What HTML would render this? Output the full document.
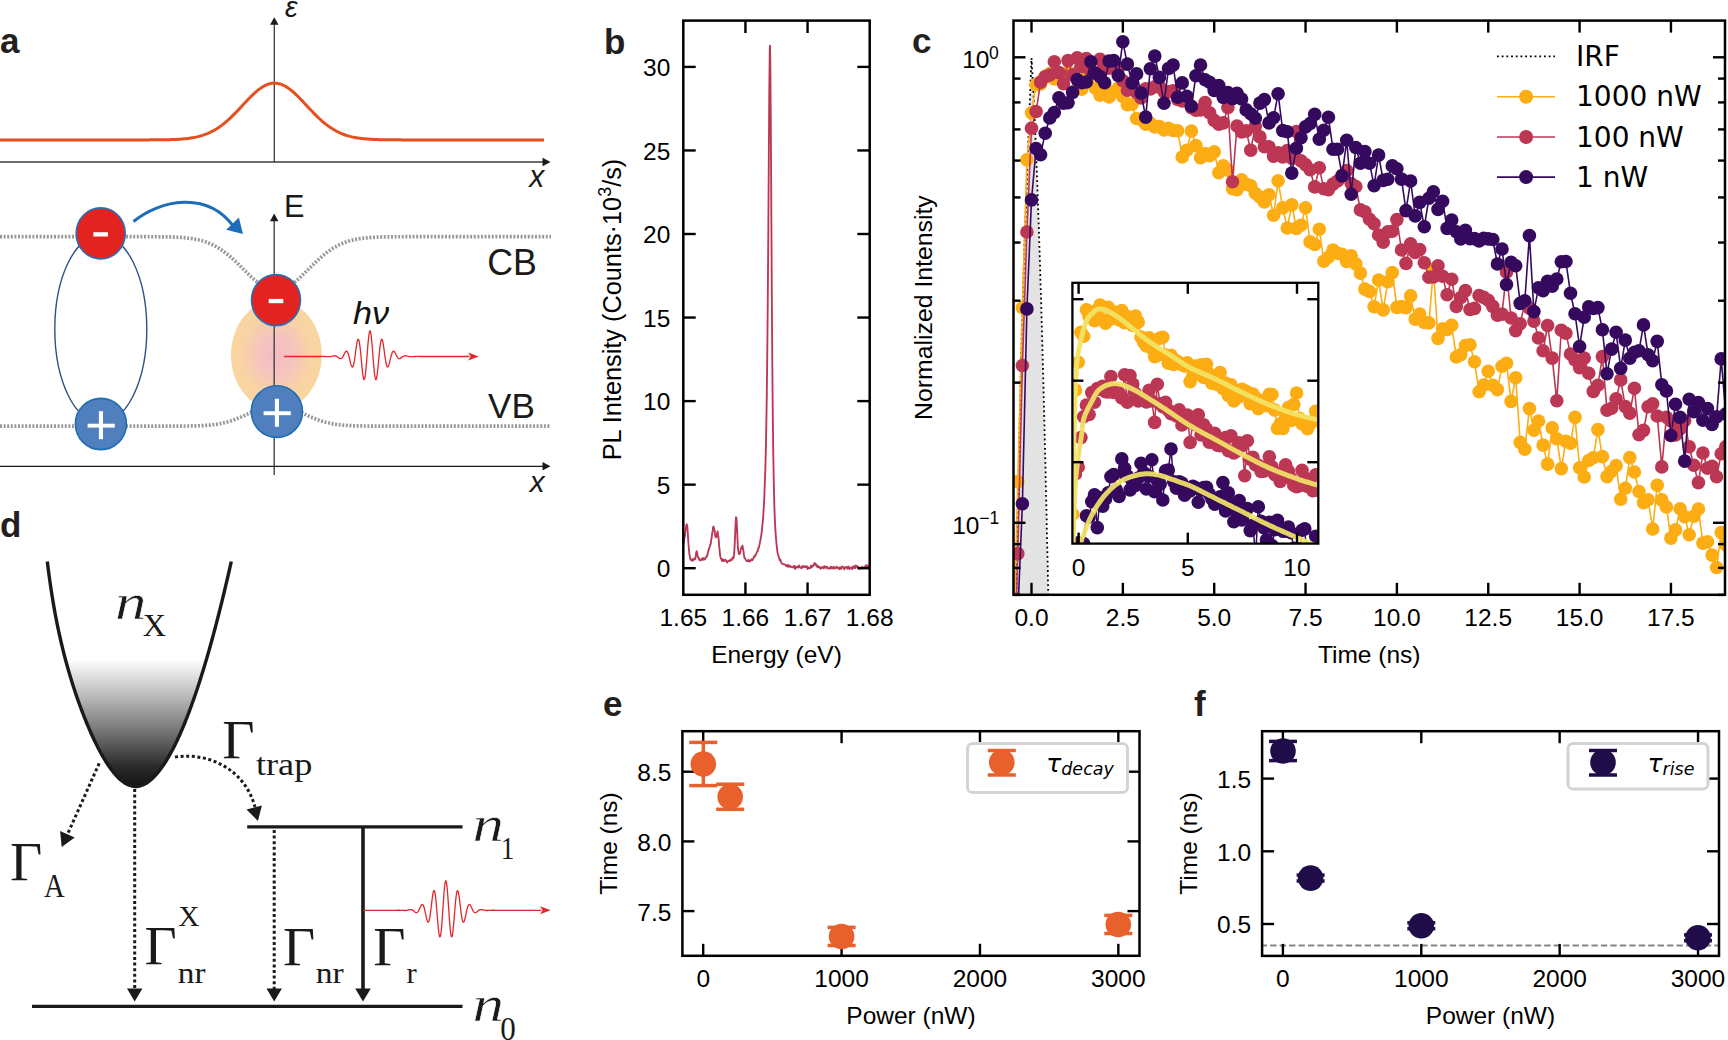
<!DOCTYPE html><html><head><meta charset="utf-8"><style>html,body{margin:0;padding:0;background:#fff;overflow:hidden}svg{display:block}</style></head><body>
<svg width="1728" height="1040" viewBox="0 0 1728 1040">
<rect width="1728" height="1040" fill="#fff"/>
<text x="0.0" y="53.3" font-family="'Liberation Sans', Arial, Helvetica, sans-serif" font-size="35" text-anchor="start" font-weight="bold" font-style="normal" fill="#231f20" >a</text>
<line x1="274.3" y1="24" x2="274.3" y2="162" stroke="#3a3a3a" stroke-width="1.3"/>
<polygon points="274.3,17.3 270.1,24.8 278.5,24.8" fill="#1a1a1a"/>
<line x1="0" y1="162" x2="543" y2="162" stroke="#3a3a3a" stroke-width="1.3"/>
<polygon points="550.5,162 542.5,157.8 542.5,166.2" fill="#1a1a1a"/>
<text transform="matrix(0.9462 0 0 0.9908 284.98 16.90)" font-family="'Liberation Sans', Arial, Helvetica, sans-serif" font-size="30" font-weight="normal" font-style="italic" fill="#1a1a1a" >&#949;</text>
<text transform="matrix(1.0030 0 0 1.0159 529.35 187.45)" font-family="'Liberation Sans', Arial, Helvetica, sans-serif" font-size="30" font-weight="normal" font-style="italic" fill="#1a1a1a" >x</text>
<polyline points="0.0,139.90 2.0,139.90 4.0,139.90 6.0,139.90 8.0,139.90 10.0,139.90 12.0,139.90 14.0,139.90 16.0,139.90 18.0,139.90 20.0,139.90 22.0,139.90 24.0,139.90 26.0,139.90 28.0,139.90 30.0,139.90 32.0,139.90 34.0,139.90 36.0,139.90 38.0,139.90 40.0,139.90 42.0,139.90 44.0,139.90 46.0,139.90 48.0,139.90 50.0,139.90 52.0,139.90 54.0,139.90 56.0,139.90 58.0,139.90 60.0,139.90 62.0,139.90 64.0,139.90 66.0,139.90 68.0,139.90 70.0,139.90 72.0,139.90 74.0,139.90 76.0,139.90 78.0,139.90 80.0,139.90 82.0,139.90 84.0,139.90 86.0,139.90 88.0,139.90 90.0,139.90 92.0,139.90 94.0,139.90 96.0,139.90 98.0,139.90 100.0,139.90 102.0,139.90 104.0,139.90 106.0,139.90 108.0,139.90 110.0,139.90 112.0,139.90 114.0,139.90 116.0,139.90 118.0,139.90 120.0,139.90 122.0,139.90 124.0,139.90 126.0,139.90 128.0,139.90 130.0,139.90 132.0,139.90 134.0,139.90 136.0,139.90 138.0,139.89 140.0,139.89 142.0,139.89 144.0,139.89 146.0,139.88 148.0,139.88 150.0,139.87 152.0,139.86 154.0,139.85 156.0,139.84 158.0,139.82 160.0,139.81 162.0,139.78 164.0,139.75 166.0,139.72 168.0,139.68 170.0,139.63 172.0,139.56 174.0,139.49 176.0,139.40 178.0,139.30 180.0,139.17 182.0,139.03 184.0,138.86 186.0,138.66 188.0,138.43 190.0,138.16 192.0,137.85 194.0,137.50 196.0,137.10 198.0,136.64 200.0,136.12 202.0,135.54 204.0,134.88 206.0,134.15 208.0,133.34 210.0,132.45 212.0,131.47 214.0,130.39 216.0,129.22 218.0,127.95 220.0,126.58 222.0,125.11 224.0,123.55 226.0,121.89 228.0,120.14 230.0,118.30 232.0,116.39 234.0,114.40 236.0,112.36 238.0,110.26 240.0,108.14 242.0,105.99 244.0,103.84 246.0,101.70 248.0,99.59 250.0,97.53 252.0,95.54 254.0,93.64 256.0,91.84 258.0,90.17 260.0,88.64 262.0,87.27 264.0,86.08 266.0,85.07 268.0,84.26 270.0,83.66 272.0,83.27 274.0,83.11 276.0,83.16 278.0,83.44 280.0,83.93 282.0,84.64 284.0,85.55 286.0,86.65 288.0,87.94 290.0,89.39 292.0,90.99 294.0,92.72 296.0,94.58 298.0,96.53 300.0,98.55 302.0,100.64 304.0,102.76 306.0,104.91 308.0,107.06 310.0,109.20 312.0,111.31 314.0,113.39 316.0,115.40 318.0,117.35 320.0,119.23 322.0,121.02 324.0,122.73 326.0,124.34 328.0,125.86 330.0,127.28 332.0,128.60 334.0,129.82 336.0,130.94 338.0,131.97 340.0,132.91 342.0,133.76 344.0,134.53 346.0,135.22 348.0,135.84 350.0,136.39 352.0,136.88 354.0,137.31 356.0,137.68 358.0,138.01 360.0,138.30 362.0,138.55 364.0,138.76 366.0,138.95 368.0,139.10 370.0,139.24 372.0,139.35 374.0,139.45 376.0,139.53 378.0,139.60 380.0,139.65 382.0,139.70 384.0,139.74 386.0,139.77 388.0,139.79 390.0,139.82 392.0,139.83 394.0,139.85 396.0,139.86 398.0,139.87 400.0,139.87 402.0,139.88 404.0,139.88 406.0,139.89 408.0,139.89 410.0,139.89 412.0,139.89 414.0,139.90 416.0,139.90 418.0,139.90 420.0,139.90 422.0,139.90 424.0,139.90 426.0,139.90 428.0,139.90 430.0,139.90 432.0,139.90 434.0,139.90 436.0,139.90 438.0,139.90 440.0,139.90 442.0,139.90 444.0,139.90 446.0,139.90 448.0,139.90 450.0,139.90 452.0,139.90 454.0,139.90 456.0,139.90 458.0,139.90 460.0,139.90 462.0,139.90 464.0,139.90 466.0,139.90 468.0,139.90 470.0,139.90 472.0,139.90 474.0,139.90 476.0,139.90 478.0,139.90 480.0,139.90 482.0,139.90 484.0,139.90 486.0,139.90 488.0,139.90 490.0,139.90 492.0,139.90 494.0,139.90 496.0,139.90 498.0,139.90 500.0,139.90 502.0,139.90 504.0,139.90 506.0,139.90 508.0,139.90 510.0,139.90 512.0,139.90 514.0,139.90 516.0,139.90 518.0,139.90 520.0,139.90 522.0,139.90 524.0,139.90 526.0,139.90 528.0,139.90 530.0,139.90 532.0,139.90 534.0,139.90 536.0,139.90 538.0,139.90 540.0,139.90 542.0,139.90 544.0,139.90" fill="none" stroke="#e4501e" stroke-width="3"/>
<polyline points="0,236.70 1,236.70 2,236.70 3,236.70 4,236.70 5,236.70 6,236.70 7,236.70 8,236.70 9,236.70 10,236.70 11,236.70 12,236.70 13,236.70 14,236.70 15,236.70 16,236.70 17,236.70 18,236.70 19,236.70 20,236.70 21,236.70 22,236.70 23,236.70 24,236.70 25,236.70 26,236.70 27,236.70 28,236.70 29,236.70 30,236.70 31,236.70 32,236.70 33,236.70 34,236.70 35,236.70 36,236.70 37,236.70 38,236.70 39,236.70 40,236.70 41,236.70 42,236.70 43,236.70 44,236.70 45,236.70 46,236.70 47,236.70 48,236.70 49,236.70 50,236.70 51,236.70 52,236.70 53,236.70 54,236.70 55,236.70 56,236.70 57,236.70 58,236.70 59,236.70 60,236.70 61,236.70 62,236.70 63,236.70 64,236.70 65,236.70 66,236.70 67,236.70 68,236.70 69,236.70 70,236.70 71,236.70 72,236.70 73,236.70 74,236.70 75,236.70 76,236.70 77,236.70 78,236.70 79,236.70 80,236.70 81,236.70 82,236.70 83,236.70 84,236.70 85,236.70 86,236.70 87,236.70 88,236.70 89,236.70 90,236.70 91,236.70 92,236.70 93,236.70 94,236.70 95,236.70 96,236.70 97,236.70 98,236.70 99,236.70 100,236.70 101,236.70 102,236.70 103,236.70 104,236.70 105,236.70 106,236.70 107,236.70 108,236.70 109,236.70 110,236.70 111,236.70 112,236.70 113,236.70 114,236.70 115,236.70 116,236.70 117,236.70 118,236.70 119,236.70 120,236.70 121,236.70 122,236.70 123,236.70 124,236.70 125,236.70 126,236.70 127,236.70 128,236.70 129,236.70 130,236.70 131,236.70 132,236.70 133,236.70 134,236.70 135,236.70 136,236.71 137,236.71 138,236.71 139,236.71 140,236.71 141,236.71 142,236.71 143,236.71 144,236.71 145,236.72 146,236.72 147,236.72 148,236.72 149,236.73 150,236.73 151,236.73 152,236.74 153,236.74 154,236.75 155,236.75 156,236.76 157,236.77 158,236.78 159,236.79 160,236.80 161,236.81 162,236.82 163,236.83 164,236.85 165,236.86 166,236.88 167,236.90 168,236.92 169,236.94 170,236.97 171,237.00 172,237.03 173,237.06 174,237.10 175,237.14 176,237.18 177,237.23 178,237.28 179,237.34 180,237.40 181,237.47 182,237.54 183,237.61 184,237.70 185,237.79 186,237.88 187,237.99 188,238.10 189,238.22 190,238.35 191,238.49 192,238.63 193,238.79 194,238.96 195,239.14 196,239.33 197,239.54 198,239.76 199,239.99 200,240.23 201,240.49 202,240.77 203,241.06 204,241.37 205,241.69 206,242.04 207,242.40 208,242.78 209,243.17 210,243.59 211,244.03 212,244.49 213,244.97 214,245.47 215,245.99 216,246.54 217,247.10 218,247.69 219,248.30 220,248.93 221,249.59 222,250.27 223,250.97 224,251.69 225,252.44 226,253.20 227,253.99 228,254.80 229,255.62 230,256.47 231,257.33 232,258.22 233,259.12 234,260.03 235,260.96 236,261.90 237,262.86 238,263.82 239,264.80 240,265.78 241,266.76 242,267.76 243,268.75 244,269.75 245,270.74 246,271.73 247,272.72 248,273.70 249,274.67 250,275.63 251,276.57 252,277.50 253,278.41 254,279.31 255,280.18 256,281.02 257,281.84 258,282.64 259,283.40 260,284.13 261,284.83 262,285.49 263,286.11 264,286.70 265,287.24 266,287.74 267,288.20 268,288.61 269,288.98 270,289.30 271,289.57 272,289.80 273,289.97 274,290.10 275,290.17 276,290.20 277,290.17 278,290.10 279,289.97 280,289.80 281,289.57 282,289.30 283,288.98 284,288.61 285,288.20 286,287.74 287,287.24 288,286.70 289,286.11 290,285.49 291,284.83 292,284.13 293,283.40 294,282.64 295,281.84 296,281.02 297,280.18 298,279.31 299,278.41 300,277.50 301,276.57 302,275.63 303,274.67 304,273.70 305,272.72 306,271.73 307,270.74 308,269.75 309,268.75 310,267.76 311,266.76 312,265.78 313,264.80 314,263.82 315,262.86 316,261.90 317,260.96 318,260.03 319,259.12 320,258.22 321,257.33 322,256.47 323,255.62 324,254.80 325,253.99 326,253.20 327,252.44 328,251.69 329,250.97 330,250.27 331,249.59 332,248.93 333,248.30 334,247.69 335,247.10 336,246.54 337,245.99 338,245.47 339,244.97 340,244.49 341,244.03 342,243.59 343,243.17 344,242.78 345,242.40 346,242.04 347,241.69 348,241.37 349,241.06 350,240.77 351,240.49 352,240.23 353,239.99 354,239.76 355,239.54 356,239.33 357,239.14 358,238.96 359,238.79 360,238.63 361,238.49 362,238.35 363,238.22 364,238.10 365,237.99 366,237.88 367,237.79 368,237.70 369,237.61 370,237.54 371,237.47 372,237.40 373,237.34 374,237.28 375,237.23 376,237.18 377,237.14 378,237.10 379,237.06 380,237.03 381,237.00 382,236.97 383,236.94 384,236.92 385,236.90 386,236.88 387,236.86 388,236.85 389,236.83 390,236.82 391,236.81 392,236.80 393,236.79 394,236.78 395,236.77 396,236.76 397,236.75 398,236.75 399,236.74 400,236.74 401,236.73 402,236.73 403,236.73 404,236.72 405,236.72 406,236.72 407,236.72 408,236.71 409,236.71 410,236.71 411,236.71 412,236.71 413,236.71 414,236.71 415,236.71 416,236.71 417,236.70 418,236.70 419,236.70 420,236.70 421,236.70 422,236.70 423,236.70 424,236.70 425,236.70 426,236.70 427,236.70 428,236.70 429,236.70 430,236.70 431,236.70 432,236.70 433,236.70 434,236.70 435,236.70 436,236.70 437,236.70 438,236.70 439,236.70 440,236.70 441,236.70 442,236.70 443,236.70 444,236.70 445,236.70 446,236.70 447,236.70 448,236.70 449,236.70 450,236.70 451,236.70 452,236.70 453,236.70 454,236.70 455,236.70 456,236.70 457,236.70 458,236.70 459,236.70 460,236.70 461,236.70 462,236.70 463,236.70 464,236.70 465,236.70 466,236.70 467,236.70 468,236.70 469,236.70 470,236.70 471,236.70 472,236.70 473,236.70 474,236.70 475,236.70 476,236.70 477,236.70 478,236.70 479,236.70 480,236.70 481,236.70 482,236.70 483,236.70 484,236.70 485,236.70 486,236.70 487,236.70 488,236.70 489,236.70 490,236.70 491,236.70 492,236.70 493,236.70 494,236.70 495,236.70 496,236.70 497,236.70 498,236.70 499,236.70 500,236.70 501,236.70 502,236.70 503,236.70 504,236.70 505,236.70 506,236.70 507,236.70 508,236.70 509,236.70 510,236.70 511,236.70 512,236.70 513,236.70 514,236.70 515,236.70 516,236.70 517,236.70 518,236.70 519,236.70 520,236.70 521,236.70 522,236.70 523,236.70 524,236.70 525,236.70 526,236.70 527,236.70 528,236.70 529,236.70 530,236.70 531,236.70 532,236.70 533,236.70 534,236.70 535,236.70 536,236.70 537,236.70 538,236.70 539,236.70 540,236.70 541,236.70 542,236.70 543,236.70 544,236.70 545,236.70 546,236.70 547,236.70 548,236.70 549,236.70 550,236.70 551,236.70" fill="none" stroke="#999" stroke-width="3.7" stroke-dasharray="2,1.6"/>
<polyline points="0,426.10 1,426.10 2,426.10 3,426.10 4,426.10 5,426.10 6,426.10 7,426.10 8,426.10 9,426.10 10,426.10 11,426.10 12,426.10 13,426.10 14,426.10 15,426.10 16,426.10 17,426.10 18,426.10 19,426.10 20,426.10 21,426.10 22,426.10 23,426.10 24,426.10 25,426.10 26,426.10 27,426.10 28,426.10 29,426.10 30,426.10 31,426.10 32,426.10 33,426.10 34,426.10 35,426.10 36,426.10 37,426.10 38,426.10 39,426.10 40,426.10 41,426.10 42,426.10 43,426.10 44,426.10 45,426.10 46,426.10 47,426.10 48,426.10 49,426.10 50,426.10 51,426.10 52,426.10 53,426.10 54,426.10 55,426.10 56,426.10 57,426.10 58,426.10 59,426.10 60,426.10 61,426.10 62,426.10 63,426.10 64,426.10 65,426.10 66,426.10 67,426.10 68,426.10 69,426.10 70,426.10 71,426.10 72,426.10 73,426.10 74,426.10 75,426.10 76,426.10 77,426.10 78,426.10 79,426.10 80,426.10 81,426.10 82,426.10 83,426.10 84,426.10 85,426.10 86,426.10 87,426.10 88,426.10 89,426.10 90,426.10 91,426.10 92,426.10 93,426.10 94,426.10 95,426.10 96,426.10 97,426.10 98,426.10 99,426.10 100,426.10 101,426.10 102,426.10 103,426.10 104,426.10 105,426.10 106,426.10 107,426.10 108,426.10 109,426.10 110,426.10 111,426.10 112,426.10 113,426.10 114,426.10 115,426.10 116,426.10 117,426.10 118,426.10 119,426.10 120,426.10 121,426.10 122,426.10 123,426.10 124,426.10 125,426.10 126,426.10 127,426.10 128,426.10 129,426.10 130,426.10 131,426.10 132,426.10 133,426.10 134,426.10 135,426.10 136,426.10 137,426.10 138,426.10 139,426.10 140,426.10 141,426.10 142,426.10 143,426.10 144,426.10 145,426.10 146,426.10 147,426.10 148,426.10 149,426.10 150,426.10 151,426.10 152,426.10 153,426.10 154,426.10 155,426.10 156,426.10 157,426.10 158,426.10 159,426.10 160,426.10 161,426.10 162,426.10 163,426.10 164,426.10 165,426.10 166,426.09 167,426.09 168,426.09 169,426.09 170,426.09 171,426.09 172,426.09 173,426.09 174,426.08 175,426.08 176,426.08 177,426.07 178,426.07 179,426.07 180,426.06 181,426.06 182,426.05 183,426.04 184,426.04 185,426.03 186,426.02 187,426.01 188,426.00 189,425.98 190,425.97 191,425.95 192,425.93 193,425.91 194,425.89 195,425.87 196,425.84 197,425.81 198,425.78 199,425.74 200,425.70 201,425.66 202,425.61 203,425.56 204,425.50 205,425.44 206,425.37 207,425.30 208,425.22 209,425.13 210,425.04 211,424.94 212,424.83 213,424.72 214,424.60 215,424.46 216,424.32 217,424.17 218,424.01 219,423.84 220,423.66 221,423.46 222,423.26 223,423.04 224,422.81 225,422.57 226,422.32 227,422.05 228,421.78 229,421.48 230,421.18 231,420.86 232,420.53 233,420.19 234,419.84 235,419.47 236,419.09 237,418.70 238,418.30 239,417.89 240,417.47 241,417.04 242,416.60 243,416.15 244,415.70 245,415.24 246,414.77 247,414.30 248,413.83 249,413.36 250,412.89 251,412.42 252,411.95 253,411.49 254,411.03 255,410.58 256,410.14 257,409.71 258,409.28 259,408.88 260,408.48 261,408.10 262,407.74 263,407.40 264,407.07 265,406.77 266,406.49 267,406.23 268,406.00 269,405.79 270,405.61 271,405.46 272,405.33 273,405.23 274,405.16 275,405.11 276,405.10 277,405.11 278,405.16 279,405.23 280,405.33 281,405.46 282,405.61 283,405.79 284,406.00 285,406.23 286,406.49 287,406.77 288,407.07 289,407.40 290,407.74 291,408.10 292,408.48 293,408.88 294,409.28 295,409.71 296,410.14 297,410.58 298,411.03 299,411.49 300,411.95 301,412.42 302,412.89 303,413.36 304,413.83 305,414.30 306,414.77 307,415.24 308,415.70 309,416.15 310,416.60 311,417.04 312,417.47 313,417.89 314,418.30 315,418.70 316,419.09 317,419.47 318,419.84 319,420.19 320,420.53 321,420.86 322,421.18 323,421.48 324,421.78 325,422.05 326,422.32 327,422.57 328,422.81 329,423.04 330,423.26 331,423.46 332,423.66 333,423.84 334,424.01 335,424.17 336,424.32 337,424.46 338,424.60 339,424.72 340,424.83 341,424.94 342,425.04 343,425.13 344,425.22 345,425.30 346,425.37 347,425.44 348,425.50 349,425.56 350,425.61 351,425.66 352,425.70 353,425.74 354,425.78 355,425.81 356,425.84 357,425.87 358,425.89 359,425.91 360,425.93 361,425.95 362,425.97 363,425.98 364,426.00 365,426.01 366,426.02 367,426.03 368,426.04 369,426.04 370,426.05 371,426.06 372,426.06 373,426.07 374,426.07 375,426.07 376,426.08 377,426.08 378,426.08 379,426.09 380,426.09 381,426.09 382,426.09 383,426.09 384,426.09 385,426.09 386,426.09 387,426.10 388,426.10 389,426.10 390,426.10 391,426.10 392,426.10 393,426.10 394,426.10 395,426.10 396,426.10 397,426.10 398,426.10 399,426.10 400,426.10 401,426.10 402,426.10 403,426.10 404,426.10 405,426.10 406,426.10 407,426.10 408,426.10 409,426.10 410,426.10 411,426.10 412,426.10 413,426.10 414,426.10 415,426.10 416,426.10 417,426.10 418,426.10 419,426.10 420,426.10 421,426.10 422,426.10 423,426.10 424,426.10 425,426.10 426,426.10 427,426.10 428,426.10 429,426.10 430,426.10 431,426.10 432,426.10 433,426.10 434,426.10 435,426.10 436,426.10 437,426.10 438,426.10 439,426.10 440,426.10 441,426.10 442,426.10 443,426.10 444,426.10 445,426.10 446,426.10 447,426.10 448,426.10 449,426.10 450,426.10 451,426.10 452,426.10 453,426.10 454,426.10 455,426.10 456,426.10 457,426.10 458,426.10 459,426.10 460,426.10 461,426.10 462,426.10 463,426.10 464,426.10 465,426.10 466,426.10 467,426.10 468,426.10 469,426.10 470,426.10 471,426.10 472,426.10 473,426.10 474,426.10 475,426.10 476,426.10 477,426.10 478,426.10 479,426.10 480,426.10 481,426.10 482,426.10 483,426.10 484,426.10 485,426.10 486,426.10 487,426.10 488,426.10 489,426.10 490,426.10 491,426.10 492,426.10 493,426.10 494,426.10 495,426.10 496,426.10 497,426.10 498,426.10 499,426.10 500,426.10 501,426.10 502,426.10 503,426.10 504,426.10 505,426.10 506,426.10 507,426.10 508,426.10 509,426.10 510,426.10 511,426.10 512,426.10 513,426.10 514,426.10 515,426.10 516,426.10 517,426.10 518,426.10 519,426.10 520,426.10 521,426.10 522,426.10 523,426.10 524,426.10 525,426.10 526,426.10 527,426.10 528,426.10 529,426.10 530,426.10 531,426.10 532,426.10 533,426.10 534,426.10 535,426.10 536,426.10 537,426.10 538,426.10 539,426.10 540,426.10 541,426.10 542,426.10 543,426.10 544,426.10 545,426.10 546,426.10 547,426.10 548,426.10 549,426.10 550,426.10 551,426.10" fill="none" stroke="#999" stroke-width="3.7" stroke-dasharray="2,1.6"/>
<defs><radialGradient id="glow" cx="0.5" cy="0.5" r="0.5"><stop offset="0" stop-color="#f3bcc4"/><stop offset="0.35" stop-color="#f5c3c0"/><stop offset="0.75" stop-color="#f8d3a4"/><stop offset="1" stop-color="#f9d6a0"/></radialGradient></defs>
<ellipse cx="276.4" cy="355" rx="45.4" ry="55" fill="url(#glow)"/>
<line x1="274.2" y1="221" x2="274.2" y2="475" stroke="#444" stroke-width="1.4"/>
<polygon points="274.2,213.6 270,221.3 278.4,221.3" fill="#1a1a1a"/>
<line x1="0" y1="466.3" x2="543" y2="466.3" stroke="#1a1a1a" stroke-width="1.3"/>
<polygon points="550.5,466.3 542.5,462.1 542.5,470.5" fill="#1a1a1a"/>
<text transform="matrix(1.0215 0 0 1.0683 284.00 217.45)" font-family="'Liberation Sans', Arial, Helvetica, sans-serif" font-size="30" font-weight="normal" font-style="normal" fill="#1a1a1a" >E</text>
<text transform="matrix(0.9910 0 0 1.0095 529.74 491.75)" font-family="'Liberation Sans', Arial, Helvetica, sans-serif" font-size="30" font-weight="normal" font-style="italic" fill="#1a1a1a" >x</text>
<text transform="matrix(0.9924 0 0 1.0337 487.21 274.89)" font-family="'Liberation Sans', Arial, Helvetica, sans-serif" font-size="36" font-weight="normal" font-style="normal" fill="#1a1a1a" >CB</text>
<text transform="matrix(0.9727 0 0 0.9939 488.11 417.55)" font-family="'Liberation Sans', Arial, Helvetica, sans-serif" font-size="36" font-weight="normal" font-style="normal" fill="#1a1a1a" >VB</text>
<ellipse cx="100.8" cy="329" rx="46" ry="94" fill="none" stroke="#2d5283" stroke-width="1.4"/>
<ellipse cx="100.7" cy="233.4" rx="24.5" ry="25.5" fill="#e3231f" stroke="#2a6db5" stroke-width="1.6"/>
<rect x="93.4" y="232.2" width="14.6" height="4.3" fill="#fff"/>
<ellipse cx="100.9" cy="424" rx="25.5" ry="25.6" fill="#4f7fbd" stroke="#1f6db5" stroke-width="1.6"/>
<rect x="98.9" y="411.2" width="4.1" height="28" fill="#fff"/>
<rect x="87.6" y="423.7" width="27.2" height="3.9" fill="#fff"/>
<ellipse cx="276" cy="300.1" rx="24.5" ry="25.5" fill="#e3231f" stroke="#2a6db5" stroke-width="1.6"/>
<rect x="268.7" y="298.9" width="14.6" height="4.3" fill="#fff"/>
<ellipse cx="276.9" cy="411.6" rx="25.6" ry="25.8" fill="#4f7fbd" stroke="#1f6db5" stroke-width="1.6"/>
<rect x="274.9" y="398.8" width="4.1" height="28" fill="#fff"/>
<rect x="263.6" y="411.3" width="27.2" height="3.9" fill="#fff"/>
<path d="M133.5,221.5 C160,200 207,190 234,227" fill="none" stroke="#1f6db8" stroke-width="3"/>
<polygon points="243,234 226.2,229.8 238.9,217.6" fill="#1f6db8"/>
<polyline points="284.00,356.50 284.40,356.50 284.80,356.50 285.20,356.50 285.60,356.50 286.00,356.50 286.40,356.50 286.80,356.50 287.20,356.50 287.60,356.50 288.00,356.50 288.40,356.50 288.80,356.50 289.20,356.50 289.60,356.50 290.00,356.50 290.40,356.50 290.80,356.50 291.20,356.50 291.60,356.50 292.00,356.50 292.40,356.50 292.80,356.50 293.20,356.50 293.60,356.50 294.00,356.50 294.40,356.50 294.80,356.50 295.20,356.50 295.60,356.50 296.00,356.50 296.40,356.50 296.80,356.50 297.20,356.50 297.60,356.50 298.00,356.50 298.40,356.50 298.80,356.50 299.20,356.50 299.60,356.50 300.00,356.50 300.40,356.50 300.80,356.50 301.20,356.50 301.60,356.50 302.00,356.50 302.40,356.50 302.80,356.50 303.20,356.50 303.60,356.50 304.00,356.50 304.40,356.50 304.80,356.50 305.20,356.50 305.60,356.50 306.00,356.50 306.40,356.50 306.80,356.50 307.20,356.50 307.60,356.50 308.00,356.50 308.40,356.50 308.80,356.50 309.20,356.50 309.60,356.50 310.00,356.50 310.40,356.50 310.80,356.50 311.20,356.50 311.60,356.50 312.00,356.50 312.40,356.50 312.80,356.50 313.20,356.50 313.60,356.50 314.00,356.50 314.40,356.50 314.80,356.50 315.20,356.51 315.60,356.51 316.00,356.51 316.40,356.51 316.80,356.51 317.20,356.51 317.60,356.51 318.00,356.51 318.40,356.50 318.80,356.50 319.20,356.50 319.60,356.49 320.00,356.49 320.40,356.48 320.80,356.48 321.20,356.47 321.60,356.46 322.00,356.46 322.40,356.45 322.80,356.45 323.20,356.45 323.60,356.46 324.00,356.46 324.40,356.48 324.80,356.49 325.20,356.51 325.60,356.53 326.00,356.56 326.40,356.59 326.80,356.61 327.20,356.64 327.60,356.67 328.00,356.69 328.40,356.70 328.80,356.71 329.20,356.70 329.60,356.68 330.00,356.65 330.40,356.60 330.80,356.54 331.20,356.46 331.60,356.37 332.00,356.27 332.40,356.17 332.80,356.06 333.20,355.96 333.60,355.88 334.00,355.81 334.40,355.77 334.80,355.76 335.20,355.79 335.60,355.87 336.00,355.99 336.40,356.16 336.80,356.38 337.20,356.63 337.60,356.92 338.00,357.24 338.40,357.56 338.80,357.87 339.20,358.16 339.60,358.40 340.00,358.58 340.40,358.67 340.80,358.67 341.20,358.55 341.60,358.31 342.00,357.94 342.40,357.44 342.80,356.84 343.20,356.14 343.60,355.37 344.00,354.56 344.40,353.75 344.80,352.98 345.20,352.30 345.60,351.75 346.00,351.37 346.40,351.21 346.80,351.30 347.20,351.65 347.60,352.28 348.00,353.19 348.40,354.35 348.80,355.74 349.20,357.30 349.60,358.97 350.00,360.69 350.40,362.35 350.80,363.89 351.20,365.21 351.60,366.22 352.00,366.84 352.40,367.03 352.80,366.72 353.20,365.90 353.60,364.57 354.00,362.75 354.40,360.50 354.80,357.90 355.20,355.05 355.60,352.08 356.00,349.11 356.40,346.31 356.80,343.80 357.20,341.74 357.60,340.24 358.00,339.42 358.40,339.35 358.80,340.07 359.20,341.59 359.60,343.87 360.00,346.85 360.40,350.40 360.80,354.39 361.20,358.65 361.60,362.97 362.00,367.17 362.40,371.03 362.80,374.36 363.20,376.98 363.60,378.75 364.00,379.57 364.40,379.36 364.80,378.11 365.20,375.85 365.60,372.67 366.00,368.69 366.40,364.10 366.80,359.09 367.20,353.89 367.60,348.75 368.00,343.89 368.40,339.56 368.80,335.95 369.20,333.25 369.60,331.57 370.00,331.00 370.40,331.57 370.80,333.25 371.20,335.95 371.60,339.56 372.00,343.89 372.40,348.75 372.80,353.89 373.20,359.09 373.60,364.10 374.00,368.69 374.40,372.67 374.80,375.85 375.20,378.11 375.60,379.36 376.00,379.57 376.40,378.75 376.80,376.98 377.20,374.36 377.60,371.03 378.00,367.17 378.40,362.97 378.80,358.65 379.20,354.39 379.60,350.40 380.00,346.85 380.40,343.87 380.80,341.59 381.20,340.07 381.60,339.35 382.00,339.42 382.40,340.24 382.80,341.74 383.20,343.80 383.60,346.31 384.00,349.11 384.40,352.08 384.80,355.05 385.20,357.90 385.60,360.50 386.00,362.75 386.40,364.57 386.80,365.90 387.20,366.72 387.60,367.03 388.00,366.84 388.40,366.22 388.80,365.21 389.20,363.89 389.60,362.35 390.00,360.69 390.40,358.97 390.80,357.30 391.20,355.74 391.60,354.35 392.00,353.19 392.40,352.28 392.80,351.65 393.20,351.30 393.60,351.21 394.00,351.37 394.40,351.75 394.80,352.30 395.20,352.98 395.60,353.75 396.00,354.56 396.40,355.37 396.80,356.14 397.20,356.84 397.60,357.44 398.00,357.94 398.40,358.31 398.80,358.55 399.20,358.67 399.60,358.67 400.00,358.58 400.40,358.40 400.80,358.16 401.20,357.87 401.60,357.56 402.00,357.24 402.40,356.92 402.80,356.63 403.20,356.38 403.60,356.16 404.00,355.99 404.40,355.87 404.80,355.79 405.20,355.76 405.60,355.77 406.00,355.81 406.40,355.88 406.80,355.96 407.20,356.06 407.60,356.17 408.00,356.27 408.40,356.37 408.80,356.46 409.20,356.54 409.60,356.60 410.00,356.65 410.40,356.68 410.80,356.70 411.20,356.71 411.60,356.70 412.00,356.69 412.40,356.67 412.80,356.64 413.20,356.61 413.60,356.59 414.00,356.56 414.40,356.53 414.80,356.51 415.20,356.49 415.60,356.48 416.00,356.46 416.40,356.46 416.80,356.45 417.20,356.45 417.60,356.45 418.00,356.46 418.40,356.46 418.80,356.47 419.20,356.48 419.60,356.48 420.00,356.49 420.40,356.49 420.80,356.50 421.20,356.50 421.60,356.50 422.00,356.51 422.40,356.51 422.80,356.51 423.20,356.51 423.60,356.51 424.00,356.51 424.40,356.51 424.80,356.51 425.20,356.50 425.60,356.50 426.00,356.50 426.40,356.50 426.80,356.50 427.20,356.50 427.60,356.50 428.00,356.50 428.40,356.50 428.80,356.50 429.20,356.50 429.60,356.50 430.00,356.50 430.40,356.50 430.80,356.50 431.20,356.50 431.60,356.50 432.00,356.50 432.40,356.50 432.80,356.50 433.20,356.50 433.60,356.50 434.00,356.50 434.40,356.50 434.80,356.50 435.20,356.50 435.60,356.50 436.00,356.50 436.40,356.50 436.80,356.50 437.20,356.50 437.60,356.50 438.00,356.50 438.40,356.50 438.80,356.50 439.20,356.50 439.60,356.50 440.00,356.50 440.40,356.50 440.80,356.50 441.20,356.50 441.60,356.50 442.00,356.50 442.40,356.50 442.80,356.50 443.20,356.50 443.60,356.50 444.00,356.50 444.40,356.50 444.80,356.50 445.20,356.50 445.60,356.50 446.00,356.50 446.40,356.50 446.80,356.50 447.20,356.50 447.60,356.50 448.00,356.50 448.40,356.50 448.80,356.50 449.20,356.50 449.60,356.50 450.00,356.50 450.40,356.50 450.80,356.50 451.20,356.50 451.60,356.50 452.00,356.50 452.40,356.50 452.80,356.50 453.20,356.50 453.60,356.50 454.00,356.50 454.40,356.50 454.80,356.50 455.20,356.50 455.60,356.50 456.00,356.50 456.40,356.50 456.80,356.50 457.20,356.50 457.60,356.50 458.00,356.50 458.40,356.50 458.80,356.50 459.20,356.50 459.60,356.50 460.00,356.50 460.40,356.50 460.80,356.50 461.20,356.50 461.60,356.50 462.00,356.50 462.40,356.50 462.80,356.50 463.20,356.50 463.60,356.50 464.00,356.50 464.40,356.50 464.80,356.50 465.20,356.50 465.60,356.50 466.00,356.50 466.40,356.50 466.80,356.50 467.20,356.50 467.60,356.50 468.00,356.50 468.40,356.50 468.80,356.50 469.20,356.50 469.60,356.50" fill="none" stroke="#e3262a" stroke-width="1.3"/>
<polygon points="478.7,356.5 468.2,352.5 470.7,356.5 468.2,360.5" fill="#e3262a"/>
<text transform="matrix(1.0365 0 0 0.9500 353.03 324.25)" font-family="'Liberation Sans', Arial, Helvetica, sans-serif" font-size="33" font-weight="normal" font-style="italic" fill="#111" >h&#957;</text>
<text x="0.0" y="536.5" font-family="'Liberation Sans', Arial, Helvetica, sans-serif" font-size="35" text-anchor="start" font-weight="bold" font-style="normal" fill="#231f20" >d</text>
<defs><linearGradient id="pg" x1="0" y1="659" x2="0" y2="786" gradientUnits="userSpaceOnUse"><stop offset="0" stop-color="#ffffff"/><stop offset="0.25" stop-color="#c4c4c4"/><stop offset="0.55" stop-color="#7a7a7a"/><stop offset="0.85" stop-color="#2a2a2a"/><stop offset="1" stop-color="#141414"/></linearGradient></defs>
<polygon points="47.30,561.50 47.76,565.23 48.24,568.94 48.72,572.61 49.20,576.25 49.70,579.86 50.21,583.44 50.73,586.98 51.26,590.50 51.80,593.98 52.35,597.44 52.91,600.86 53.48,604.25 54.06,607.61 54.65,610.94 55.26,614.23 55.88,617.50 56.50,620.73 57.14,623.94 57.79,627.11 58.45,630.25 59.12,633.36 59.80,636.44 60.49,639.48 61.19,642.50 61.90,645.48 62.61,648.44 63.34,651.36 64.07,654.25 64.81,657.11 65.56,659.94 66.32,662.73 67.08,665.50 67.85,668.23 68.62,670.94 69.40,673.61 70.19,676.25 70.98,678.86 71.77,681.44 72.57,683.98 73.37,686.50 74.18,688.98 74.99,691.44 75.80,693.86 76.61,696.25 77.43,698.61 78.25,700.94 79.07,703.23 79.89,705.50 80.71,707.73 81.54,709.94 82.36,712.11 83.18,714.25 84.01,716.36 84.83,718.44 85.66,720.48 86.48,722.50 87.30,724.48 88.13,726.44 88.95,728.36 89.77,730.25 90.59,732.11 91.41,733.94 92.22,735.73 93.04,737.50 93.85,739.23 94.66,740.94 95.47,742.61 96.28,744.25 97.09,745.86 97.89,747.44 98.69,748.98 99.49,750.50 100.29,751.98 101.09,753.44 101.88,754.86 102.68,756.25 103.47,757.61 104.26,758.94 105.04,760.23 105.83,761.50 106.61,762.73 107.39,763.94 108.17,765.11 108.94,766.25 109.72,767.36 110.49,768.44 111.26,769.48 112.03,770.50 112.80,771.48 113.57,772.44 114.33,773.36 115.09,774.25 115.85,775.11 116.61,775.94 117.37,776.73 118.13,777.50 118.88,778.23 119.64,778.94 120.39,779.61 121.14,780.25 121.89,780.86 122.64,781.44 123.39,781.98 124.13,782.50 124.88,782.98 125.63,783.44 126.37,783.86 127.11,784.25 127.86,784.61 128.60,784.94 129.34,785.23 130.08,785.50 130.82,785.73 131.56,785.94 132.30,786.11 133.04,786.25 133.78,786.36 134.52,786.44 135.26,786.48 136.00,786.50 136.60,786.48 137.24,786.44 137.91,786.36 138.59,786.25 139.28,786.11 139.98,785.94 140.69,785.73 141.40,785.50 142.12,785.23 142.84,784.94 143.57,784.61 144.30,784.25 145.04,783.86 145.77,783.44 146.52,782.98 147.26,782.50 148.01,781.98 148.76,781.44 149.51,780.86 150.26,780.25 151.02,779.61 151.78,778.94 152.54,778.23 153.31,777.50 154.07,776.73 154.84,775.94 155.61,775.11 156.38,774.25 157.15,773.36 157.92,772.44 158.70,771.48 159.48,770.50 160.25,769.48 161.03,768.44 161.82,767.36 162.60,766.25 163.38,765.11 164.17,763.94 164.95,762.73 165.74,761.50 166.53,760.23 167.32,758.94 168.11,757.61 168.90,756.25 169.70,754.86 170.49,753.44 171.28,751.98 172.08,750.50 172.88,748.98 173.68,747.44 174.48,745.86 175.28,744.25 176.08,742.61 176.88,740.94 177.68,739.23 178.49,737.50 179.29,735.73 180.10,733.94 180.90,732.11 181.71,730.25 182.52,728.36 183.33,726.44 184.14,724.48 184.95,722.50 185.76,720.48 186.57,718.44 187.38,716.36 188.19,714.25 189.01,712.11 189.82,709.94 190.64,707.73 191.45,705.50 192.27,703.23 193.09,700.94 193.91,698.61 194.73,696.25 195.54,693.86 196.36,691.44 197.19,688.98 198.01,686.50 198.83,683.98 199.65,681.44 200.47,678.86 201.30,676.25 202.12,673.61 202.95,670.94 203.77,668.23 204.60,665.50 205.42,662.73 206.25,659.94 207.08,657.11 207.91,654.25 208.74,651.36 209.57,648.44 210.40,645.48 211.23,642.50 212.06,639.48 212.89,636.44 213.72,633.36 214.55,630.25 215.39,627.11 216.22,623.94 217.05,620.73 217.89,617.50 218.72,614.23 219.56,610.94 220.39,607.61 221.23,604.25 222.07,600.86 222.90,597.44 223.74,593.98 224.58,590.50 225.42,586.98 226.26,583.44 227.10,579.86 227.94,576.25 228.78,572.61 229.62,568.94 230.46,565.23 231.30,561.50" fill="url(#pg)" stroke="none"/>
<polyline points="47.30,561.50 47.76,565.23 48.24,568.94 48.72,572.61 49.20,576.25 49.70,579.86 50.21,583.44 50.73,586.98 51.26,590.50 51.80,593.98 52.35,597.44 52.91,600.86 53.48,604.25 54.06,607.61 54.65,610.94 55.26,614.23 55.88,617.50 56.50,620.73 57.14,623.94 57.79,627.11 58.45,630.25 59.12,633.36 59.80,636.44 60.49,639.48 61.19,642.50 61.90,645.48 62.61,648.44 63.34,651.36 64.07,654.25 64.81,657.11 65.56,659.94 66.32,662.73 67.08,665.50 67.85,668.23 68.62,670.94 69.40,673.61 70.19,676.25 70.98,678.86 71.77,681.44 72.57,683.98 73.37,686.50 74.18,688.98 74.99,691.44 75.80,693.86 76.61,696.25 77.43,698.61 78.25,700.94 79.07,703.23 79.89,705.50 80.71,707.73 81.54,709.94 82.36,712.11 83.18,714.25 84.01,716.36 84.83,718.44 85.66,720.48 86.48,722.50 87.30,724.48 88.13,726.44 88.95,728.36 89.77,730.25 90.59,732.11 91.41,733.94 92.22,735.73 93.04,737.50 93.85,739.23 94.66,740.94 95.47,742.61 96.28,744.25 97.09,745.86 97.89,747.44 98.69,748.98 99.49,750.50 100.29,751.98 101.09,753.44 101.88,754.86 102.68,756.25 103.47,757.61 104.26,758.94 105.04,760.23 105.83,761.50 106.61,762.73 107.39,763.94 108.17,765.11 108.94,766.25 109.72,767.36 110.49,768.44 111.26,769.48 112.03,770.50 112.80,771.48 113.57,772.44 114.33,773.36 115.09,774.25 115.85,775.11 116.61,775.94 117.37,776.73 118.13,777.50 118.88,778.23 119.64,778.94 120.39,779.61 121.14,780.25 121.89,780.86 122.64,781.44 123.39,781.98 124.13,782.50 124.88,782.98 125.63,783.44 126.37,783.86 127.11,784.25 127.86,784.61 128.60,784.94 129.34,785.23 130.08,785.50 130.82,785.73 131.56,785.94 132.30,786.11 133.04,786.25 133.78,786.36 134.52,786.44 135.26,786.48 136.00,786.50 136.60,786.48 137.24,786.44 137.91,786.36 138.59,786.25 139.28,786.11 139.98,785.94 140.69,785.73 141.40,785.50 142.12,785.23 142.84,784.94 143.57,784.61 144.30,784.25 145.04,783.86 145.77,783.44 146.52,782.98 147.26,782.50 148.01,781.98 148.76,781.44 149.51,780.86 150.26,780.25 151.02,779.61 151.78,778.94 152.54,778.23 153.31,777.50 154.07,776.73 154.84,775.94 155.61,775.11 156.38,774.25 157.15,773.36 157.92,772.44 158.70,771.48 159.48,770.50 160.25,769.48 161.03,768.44 161.82,767.36 162.60,766.25 163.38,765.11 164.17,763.94 164.95,762.73 165.74,761.50 166.53,760.23 167.32,758.94 168.11,757.61 168.90,756.25 169.70,754.86 170.49,753.44 171.28,751.98 172.08,750.50 172.88,748.98 173.68,747.44 174.48,745.86 175.28,744.25 176.08,742.61 176.88,740.94 177.68,739.23 178.49,737.50 179.29,735.73 180.10,733.94 180.90,732.11 181.71,730.25 182.52,728.36 183.33,726.44 184.14,724.48 184.95,722.50 185.76,720.48 186.57,718.44 187.38,716.36 188.19,714.25 189.01,712.11 189.82,709.94 190.64,707.73 191.45,705.50 192.27,703.23 193.09,700.94 193.91,698.61 194.73,696.25 195.54,693.86 196.36,691.44 197.19,688.98 198.01,686.50 198.83,683.98 199.65,681.44 200.47,678.86 201.30,676.25 202.12,673.61 202.95,670.94 203.77,668.23 204.60,665.50 205.42,662.73 206.25,659.94 207.08,657.11 207.91,654.25 208.74,651.36 209.57,648.44 210.40,645.48 211.23,642.50 212.06,639.48 212.89,636.44 213.72,633.36 214.55,630.25 215.39,627.11 216.22,623.94 217.05,620.73 217.89,617.50 218.72,614.23 219.56,610.94 220.39,607.61 221.23,604.25 222.07,600.86 222.90,597.44 223.74,593.98 224.58,590.50 225.42,586.98 226.26,583.44 227.10,579.86 227.94,576.25 228.78,572.61 229.62,568.94 230.46,565.23 231.30,561.50" fill="none" stroke="#1a1a1a" stroke-width="3.4"/>
<line x1="247.2" y1="826.9" x2="462.5" y2="826.9" stroke="#1a1a1a" stroke-width="3.3"/>
<line x1="32" y1="1006.4" x2="462.5" y2="1006.4" stroke="#1a1a1a" stroke-width="3.3"/>
<line x1="134.7" y1="789" x2="134.7" y2="990" stroke="#1a1a1a" stroke-width="3" stroke-dasharray="3,2.6"/>
<polygon points="134.7,1001.4 127,988.5 142.4,988.5" fill="#1a1a1a"/>
<line x1="274.2" y1="830" x2="274.2" y2="990" stroke="#1a1a1a" stroke-width="3" stroke-dasharray="3,2.6"/>
<polygon points="274.2,1001.4 266.5,988.5 281.9,988.5" fill="#1a1a1a"/>
<line x1="363" y1="826" x2="363" y2="990" stroke="#1a1a1a" stroke-width="3.6"/>
<polygon points="363,1001.4 355.2,988.5 370.8,988.5" fill="#1a1a1a"/>
<line x1="99.2" y1="763.4" x2="66.5" y2="836.5" stroke="#1a1a1a" stroke-width="3" stroke-dasharray="3,2.6"/>
<polygon points="61.7,847.0 60.1,831.0 74.7,837.5" fill="#1a1a1a"/>
<path d="M175,757 C210,752 245,770 255,807" fill="none" stroke="#1a1a1a" stroke-width="3" stroke-dasharray="3,2.6"/>
<polygon points="257.9,821.0 246.5,809.6 261.9,805.4" fill="#1a1a1a"/>
<polyline points="363.00,910.30 363.40,910.30 363.80,910.30 364.20,910.30 364.60,910.30 365.00,910.30 365.40,910.30 365.80,910.30 366.20,910.30 366.60,910.30 367.00,910.30 367.40,910.30 367.80,910.30 368.20,910.30 368.60,910.30 369.00,910.30 369.40,910.30 369.80,910.30 370.20,910.30 370.60,910.30 371.00,910.30 371.40,910.30 371.80,910.30 372.20,910.30 372.60,910.30 373.00,910.30 373.40,910.30 373.80,910.30 374.20,910.30 374.60,910.30 375.00,910.30 375.40,910.30 375.80,910.30 376.20,910.30 376.60,910.30 377.00,910.30 377.40,910.30 377.80,910.30 378.20,910.30 378.60,910.30 379.00,910.30 379.40,910.30 379.80,910.30 380.20,910.30 380.60,910.30 381.00,910.30 381.40,910.30 381.80,910.30 382.20,910.30 382.60,910.30 383.00,910.30 383.40,910.30 383.80,910.30 384.20,910.30 384.60,910.30 385.00,910.30 385.40,910.30 385.80,910.30 386.20,910.30 386.60,910.30 387.00,910.30 387.40,910.30 387.80,910.30 388.20,910.30 388.60,910.30 389.00,910.30 389.40,910.30 389.80,910.30 390.20,910.30 390.60,910.30 391.00,910.30 391.40,910.31 391.80,910.31 392.20,910.31 392.60,910.31 393.00,910.31 393.40,910.31 393.80,910.31 394.20,910.30 394.60,910.30 395.00,910.30 395.40,910.29 395.80,910.29 396.20,910.28 396.60,910.28 397.00,910.27 397.40,910.27 397.80,910.26 398.20,910.26 398.60,910.25 399.00,910.26 399.40,910.26 399.80,910.27 400.20,910.28 400.60,910.29 401.00,910.31 401.40,910.33 401.80,910.36 402.20,910.38 402.60,910.41 403.00,910.44 403.40,910.47 403.80,910.49 404.20,910.50 404.60,910.51 405.00,910.50 405.40,910.48 405.80,910.45 406.20,910.40 406.60,910.34 407.00,910.26 407.40,910.17 407.80,910.07 408.20,909.96 408.60,909.85 409.00,909.75 409.40,909.66 409.80,909.58 410.20,909.54 410.60,909.53 411.00,909.56 411.40,909.64 411.80,909.77 412.20,909.94 412.60,910.17 413.00,910.44 413.40,910.75 413.80,911.08 414.20,911.42 414.60,911.76 415.00,912.07 415.40,912.33 415.80,912.53 416.20,912.64 416.60,912.63 417.00,912.51 417.40,912.25 417.80,911.85 418.20,911.32 418.60,910.67 419.00,909.91 419.40,909.07 419.80,908.18 420.20,907.29 420.60,906.44 421.00,905.69 421.40,905.07 421.80,904.65 422.20,904.46 422.60,904.55 423.00,904.93 423.40,905.62 423.80,906.62 424.20,907.91 424.60,909.45 425.00,911.19 425.40,913.06 425.80,914.98 426.20,916.85 426.60,918.59 427.00,920.07 427.40,921.22 427.80,921.94 428.20,922.16 428.60,921.83 429.00,920.92 429.40,919.42 429.80,917.38 430.20,914.83 430.60,911.89 431.00,908.66 431.40,905.27 431.80,901.90 432.20,898.69 432.60,895.82 433.00,893.46 433.40,891.74 433.80,890.79 434.20,890.69 434.60,891.50 435.00,893.22 435.40,895.83 435.80,899.23 436.20,903.30 436.60,907.88 437.00,912.77 437.40,917.75 437.80,922.58 438.20,927.02 438.60,930.87 439.00,933.90 439.40,935.96 439.80,936.90 440.20,936.67 440.60,935.24 441.00,932.64 441.40,928.97 441.80,924.39 442.20,919.08 442.60,913.29 443.00,907.29 443.40,901.33 443.80,895.72 444.20,890.71 444.60,886.53 445.00,883.40 445.40,881.46 445.80,880.80 446.20,881.46 446.60,883.40 447.00,886.53 447.40,890.71 447.80,895.72 448.20,901.33 448.60,907.29 449.00,913.29 449.40,919.08 449.80,924.39 450.20,928.97 450.60,932.64 451.00,935.24 451.40,936.67 451.80,936.90 452.20,935.96 452.60,933.90 453.00,930.87 453.40,927.02 453.80,922.58 454.20,917.75 454.60,912.77 455.00,907.88 455.40,903.30 455.80,899.23 456.20,895.83 456.60,893.22 457.00,891.50 457.40,890.69 457.80,890.79 458.20,891.74 458.60,893.46 459.00,895.82 459.40,898.69 459.80,901.90 460.20,905.27 460.60,908.66 461.00,911.89 461.40,914.83 461.80,917.38 462.20,919.42 462.60,920.92 463.00,921.83 463.40,922.16 463.80,921.94 464.20,921.22 464.60,920.07 465.00,918.59 465.40,916.85 465.80,914.98 466.20,913.06 466.60,911.19 467.00,909.45 467.40,907.91 467.80,906.62 468.20,905.62 468.60,904.93 469.00,904.55 469.40,904.46 469.80,904.65 470.20,905.07 470.60,905.69 471.00,906.44 471.40,907.29 471.80,908.18 472.20,909.07 472.60,909.91 473.00,910.67 473.40,911.32 473.80,911.85 474.20,912.25 474.60,912.51 475.00,912.63 475.40,912.64 475.80,912.53 476.20,912.33 476.60,912.07 477.00,911.76 477.40,911.42 477.80,911.08 478.20,910.75 478.60,910.44 479.00,910.17 479.40,909.94 479.80,909.77 480.20,909.64 480.60,909.56 481.00,909.53 481.40,909.54 481.80,909.58 482.20,909.66 482.60,909.75 483.00,909.85 483.40,909.96 483.80,910.07 484.20,910.17 484.60,910.26 485.00,910.34 485.40,910.40 485.80,910.45 486.20,910.48 486.60,910.50 487.00,910.51 487.40,910.50 487.80,910.49 488.20,910.47 488.60,910.44 489.00,910.41 489.40,910.38 489.80,910.36 490.20,910.33 490.60,910.31 491.00,910.29 491.40,910.28 491.80,910.27 492.20,910.26 492.60,910.26 493.00,910.25 493.40,910.26 493.80,910.26 494.20,910.27 494.60,910.27 495.00,910.28 495.40,910.28 495.80,910.29 496.20,910.29 496.60,910.30 497.00,910.30 497.40,910.30 497.80,910.31 498.20,910.31 498.60,910.31 499.00,910.31 499.40,910.31 499.80,910.31 500.20,910.31 500.60,910.30 501.00,910.30 501.40,910.30 501.80,910.30 502.20,910.30 502.60,910.30 503.00,910.30 503.40,910.30 503.80,910.30 504.20,910.30 504.60,910.30 505.00,910.30 505.40,910.30 505.80,910.30 506.20,910.30 506.60,910.30 507.00,910.30 507.40,910.30 507.80,910.30 508.20,910.30 508.60,910.30 509.00,910.30 509.40,910.30 509.80,910.30 510.20,910.30 510.60,910.30 511.00,910.30 511.40,910.30 511.80,910.30 512.20,910.30 512.60,910.30 513.00,910.30 513.40,910.30 513.80,910.30 514.20,910.30 514.60,910.30 515.00,910.30 515.40,910.30 515.80,910.30 516.20,910.30 516.60,910.30 517.00,910.30 517.40,910.30 517.80,910.30 518.20,910.30 518.60,910.30 519.00,910.30 519.40,910.30 519.80,910.30 520.20,910.30 520.60,910.30 521.00,910.30 521.40,910.30 521.80,910.30 522.20,910.30 522.60,910.30 523.00,910.30 523.40,910.30 523.80,910.30 524.20,910.30 524.60,910.30 525.00,910.30 525.40,910.30 525.80,910.30 526.20,910.30 526.60,910.30 527.00,910.30 527.40,910.30 527.80,910.30 528.20,910.30 528.60,910.30 529.00,910.30 529.40,910.30 529.80,910.30 530.20,910.30 530.60,910.30 531.00,910.30 531.40,910.30 531.80,910.30 532.20,910.30 532.60,910.30 533.00,910.30 533.40,910.30 533.80,910.30 534.20,910.30 534.60,910.30 535.00,910.30 535.40,910.30 535.80,910.30 536.20,910.30 536.60,910.30 537.00,910.30 537.40,910.30 537.80,910.30 538.20,910.30 538.60,910.30 539.00,910.30 539.40,910.30 539.80,910.30 540.20,910.30 540.60,910.30 541.00,910.30 541.40,910.30" fill="none" stroke="#e3262a" stroke-width="1.3"/>
<polygon points="550.6,910.3 540.1,906.3 542.6,910.3 540.1,914.3" fill="#e3262a"/>
<text transform="matrix(1.1648 0 0 0.9373 115.02 618.55)" font-family="'Liberation Serif', 'Times New Roman', serif" font-size="54" font-weight="normal" font-style="italic" fill="#1a1a1a" stroke="#fff" stroke-width="0.55">n</text>
<text transform="matrix(1.0765 0 0 1.0462 142.84 635.55)" font-family="'Liberation Serif', 'Times New Roman', serif" font-size="30" font-weight="normal" font-style="normal" fill="#1a1a1a" >X</text>
<text transform="matrix(1.0971 0 0 1.0677 222.30 757.85)" font-family="'Liberation Serif', 'Times New Roman', serif" font-size="51" font-weight="normal" font-style="normal" fill="#1a1a1a" >&#915;</text>
<text transform="matrix(1.0995 0 0 0.9529 255.88 774.78)" font-family="'Liberation Serif', 'Times New Roman', serif" font-size="33" font-weight="normal" font-style="normal" fill="#1a1a1a" >trap</text>
<text transform="matrix(1.0933 0 0 1.0767 9.91 879.65)" font-family="'Liberation Serif', 'Times New Roman', serif" font-size="51" font-weight="normal" font-style="normal" fill="#1a1a1a" >&#915;</text>
<text transform="matrix(0.9553 0 0 1.0987 43.91 897.15)" font-family="'Liberation Serif', 'Times New Roman', serif" font-size="30" font-weight="normal" font-style="normal" fill="#1a1a1a" >A</text>
<text transform="matrix(1.0895 0 0 1.0647 144.42 964.45)" font-family="'Liberation Serif', 'Times New Roman', serif" font-size="51" font-weight="normal" font-style="normal" fill="#1a1a1a" >&#915;</text>
<text transform="matrix(0.9827 0 0 1.0000 178.21 925.55)" font-family="'Liberation Serif', 'Times New Roman', serif" font-size="30" font-weight="normal" font-style="normal" fill="#1a1a1a" >X</text>
<text transform="matrix(1.0113 0 0 0.8903 177.79 982.65)" font-family="'Liberation Serif', 'Times New Roman', serif" font-size="33" font-weight="normal" font-style="normal" fill="#1a1a1a" >nr</text>
<text transform="matrix(1.0895 0 0 1.0827 282.92 964.55)" font-family="'Liberation Serif', 'Times New Roman', serif" font-size="51" font-weight="normal" font-style="normal" fill="#1a1a1a" >&#915;</text>
<text transform="matrix(1.0189 0 0 0.9097 315.79 982.75)" font-family="'Liberation Serif', 'Times New Roman', serif" font-size="33" font-weight="normal" font-style="normal" fill="#1a1a1a" >nr</text>
<text transform="matrix(1.0933 0 0 1.0827 373.21 964.55)" font-family="'Liberation Serif', 'Times New Roman', serif" font-size="51" font-weight="normal" font-style="normal" fill="#1a1a1a" >&#915;</text>
<text transform="matrix(0.9300 0 0 0.9097 406.55 982.75)" font-family="'Liberation Serif', 'Times New Roman', serif" font-size="33" font-weight="normal" font-style="normal" fill="#1a1a1a" >r</text>
<text transform="matrix(1.1648 0 0 0.9373 472.62 841.15)" font-family="'Liberation Serif', 'Times New Roman', serif" font-size="54" font-weight="normal" font-style="italic" fill="#1a1a1a" stroke="#fff" stroke-width="0.55">n</text>
<text transform="matrix(0.8261 0 0 0.9287 500.77 858.55)" font-family="'Liberation Serif', 'Times New Roman', serif" font-size="33" font-weight="normal" font-style="normal" fill="#1a1a1a" >1</text>
<text transform="matrix(1.1692 0 0 0.9255 472.61 1021.25)" font-family="'Liberation Serif', 'Times New Roman', serif" font-size="54" font-weight="normal" font-style="italic" fill="#1a1a1a" stroke="#fff" stroke-width="0.55">n</text>
<text transform="matrix(0.9429 0 0 0.9933 500.17 1040.10)" font-family="'Liberation Serif', 'Times New Roman', serif" font-size="33" font-weight="normal" font-style="normal" fill="#1a1a1a" >0</text>
<text x="604.0" y="53.5" font-family="'Liberation Sans', Arial, Helvetica, sans-serif" font-size="35" text-anchor="start" font-weight="bold" font-style="normal" fill="#231f20" >b</text>
<clipPath id="cb"><rect x="683.3" y="20.6" width="186.4000000000001" height="574.1999999999999"/></clipPath>
<polyline clip-path="url(#cb)" points="683.30,544.90 683.80,541.93 684.29,538.51 684.79,536.48 685.29,532.13 685.79,528.69 686.28,525.33 686.78,524.34 687.28,526.14 687.77,532.44 688.27,541.18 688.77,547.54 689.26,553.27 689.76,556.08 690.26,558.80 690.76,559.75 691.25,560.06 691.75,560.78 692.25,559.08 692.74,560.44 693.24,560.46 693.74,559.76 694.24,558.56 694.73,559.15 695.23,559.05 695.73,556.50 696.22,552.31 696.72,551.12 697.22,553.15 697.71,556.00 698.21,557.61 698.71,557.64 699.21,559.95 699.70,559.52 700.20,559.60 700.70,560.63 701.19,559.59 701.69,559.61 702.19,558.13 702.69,558.91 703.18,559.85 703.68,558.25 704.18,558.79 704.67,559.52 705.17,558.43 705.67,557.93 706.17,557.41 706.66,555.85 707.16,556.18 707.66,553.48 708.15,551.17 708.65,549.92 709.15,548.39 709.64,546.92 710.14,544.90 710.64,544.33 711.14,540.02 711.63,538.25 712.13,533.66 712.63,531.25 713.12,527.17 713.62,526.60 714.12,529.08 714.62,530.58 715.11,535.38 715.61,537.06 716.11,537.37 716.60,536.57 717.10,533.29 717.60,531.35 718.09,535.22 718.59,538.65 719.09,545.50 719.59,549.98 720.08,555.09 720.58,557.51 721.08,558.81 721.57,559.63 722.07,560.95 722.57,559.20 723.07,561.11 723.56,560.09 724.06,559.89 724.56,560.92 725.05,560.31 725.55,559.68 726.05,560.53 726.54,561.15 727.04,562.56 727.54,561.30 728.04,561.09 728.53,560.96 729.03,561.18 729.53,560.19 730.02,560.71 730.52,560.26 731.02,559.55 731.52,560.34 732.01,559.64 732.51,557.57 733.01,557.79 733.50,558.22 734.00,554.89 734.50,548.67 734.99,537.84 735.49,525.68 735.99,517.17 736.49,518.12 736.98,526.86 737.48,539.00 737.98,548.20 738.47,552.33 738.97,554.05 739.47,553.42 739.97,553.55 740.46,551.13 740.96,548.72 741.46,546.91 741.95,546.67 742.45,545.59 742.95,548.83 743.45,550.94 743.94,554.73 744.44,557.87 744.94,558.25 745.43,559.17 745.93,560.13 746.43,560.30 746.92,561.18 747.42,561.43 747.92,561.20 748.42,559.95 748.91,560.80 749.41,561.60 749.91,560.58 750.40,560.95 750.90,560.59 751.40,559.33 751.90,559.85 752.39,560.18 752.89,559.19 753.39,558.00 753.88,557.40 754.38,556.03 754.88,556.65 755.37,554.93 755.87,554.30 756.37,553.76 756.87,552.07 757.36,551.15 757.86,550.77 758.36,548.02 758.85,547.92 759.35,545.20 759.85,543.11 760.35,540.39 760.84,538.34 761.34,534.60 761.84,530.83 762.33,525.53 762.83,521.32 763.33,514.23 763.82,506.56 764.32,497.56 764.82,482.87 765.32,469.59 765.81,451.31 766.31,424.65 766.81,394.27 767.30,351.72 767.80,298.05 768.30,233.20 768.80,158.72 769.29,89.51 769.79,48.18 769.98,45.58 770.29,57.34 770.78,117.72 771.28,203.81 771.78,289.55 772.27,359.46 772.77,413.70 773.27,453.54 773.77,481.39 774.26,502.92 774.76,516.95 775.26,527.86 775.75,535.12 776.25,541.02 776.75,546.55 777.25,550.26 777.74,553.80 778.24,555.17 778.74,556.78 779.23,558.17 779.73,560.24 780.23,559.42 780.73,560.82 781.22,562.41 781.72,563.31 782.22,563.70 782.71,563.83 783.21,564.34 783.71,564.34 784.20,564.44 784.70,564.30 785.20,564.67 785.70,565.71 786.19,565.56 786.69,566.23 787.19,566.51 787.68,564.96 788.18,566.66 788.68,565.13 789.18,566.78 789.67,566.46 790.17,565.98 790.67,566.76 791.16,566.58 791.66,567.06 792.16,567.27 792.65,567.12 793.15,567.48 793.65,566.00 794.15,567.24 794.64,566.02 795.14,569.00 795.64,567.22 796.13,566.88 796.63,567.48 797.13,566.57 797.63,566.90 798.12,567.53 798.62,567.07 799.12,565.50 799.61,567.23 800.11,567.21 800.61,567.72 801.10,567.35 801.60,568.31 802.10,567.59 802.60,565.83 803.09,566.77 803.59,567.06 804.09,566.76 804.58,566.25 805.08,567.12 805.58,566.14 806.08,566.81 806.57,567.42 807.07,566.39 807.57,569.13 808.06,567.94 808.56,567.38 809.06,568.17 809.55,567.67 810.05,567.98 810.55,567.96 811.05,565.63 811.54,566.87 812.04,567.05 812.54,565.69 813.03,566.14 813.53,564.69 814.03,564.38 814.53,563.03 815.02,564.88 815.52,563.61 816.02,564.54 816.51,566.07 817.01,565.29 817.51,567.19 818.01,565.96 818.50,566.99 819.00,567.03 819.50,567.52 819.99,567.01 820.49,568.88 820.99,567.59 821.48,568.06 821.98,567.45 822.48,567.67 822.98,567.23 823.47,568.21 823.97,566.42 824.47,566.10 824.96,567.79 825.46,567.66 825.96,567.46 826.46,566.81 826.95,566.39 827.45,568.46 827.95,568.07 828.44,568.37 828.94,568.40 829.44,568.76 829.93,567.42 830.43,568.44 830.93,566.66 831.43,567.06 831.92,568.35 832.42,568.35 832.92,568.08 833.41,566.73 833.91,568.24 834.41,568.67 834.91,567.70 835.40,567.42 835.90,568.11 836.40,566.59 836.89,567.51 837.39,567.37 837.89,568.24 838.38,567.70 838.88,567.78 839.38,569.19 839.88,567.48 840.37,568.88 840.87,567.70 841.37,568.66 841.86,566.33 842.36,567.46 842.86,567.10 843.36,567.06 843.85,568.56 844.35,569.20 844.85,567.90 845.34,567.08 845.84,567.62 846.34,567.16 846.83,567.05 847.33,568.68 847.83,567.49 848.33,566.37 848.82,568.06 849.32,569.04 849.82,567.84 850.31,567.99 850.81,567.40 851.31,568.28 851.81,567.62 852.30,569.14 852.80,567.05 853.30,566.45 853.79,566.42 854.29,567.95 854.79,566.26 855.29,568.01 855.78,565.53 856.28,565.76 856.78,566.68 857.27,566.24 857.77,566.84 858.27,566.66 858.76,567.42 859.26,567.46 859.76,568.97 860.26,568.46 860.75,568.00 861.25,567.49 861.75,567.69 862.24,566.68 862.74,568.26 863.24,567.81 863.74,567.40 864.23,567.57 864.73,566.82 865.23,567.16 865.72,565.43 866.22,566.31 866.72,565.28 867.21,566.24 867.71,565.58 868.21,567.91 868.71,566.95 869.20,567.80 869.70,567.46" fill="none" stroke="#bc3754" stroke-width="1.85" stroke-linejoin="round"/>
<rect x="683.3" y="20.6" width="186.40" height="574.20" fill="none" stroke="#000" stroke-width="2.5"/>
<line x1="683.30" y1="568.20" x2="695.70" y2="568.20" stroke="#000" stroke-width="2.4"/>
<line x1="869.70" y1="568.20" x2="857.30" y2="568.20" stroke="#000" stroke-width="2.4"/>
<text x="670.3" y="577.4" font-family="'Liberation Sans', Arial, Helvetica, sans-serif" font-size="24.5" text-anchor="end" font-weight="normal" font-style="normal" fill="#000" >0</text>
<line x1="683.30" y1="484.65" x2="695.70" y2="484.65" stroke="#000" stroke-width="2.4"/>
<line x1="869.70" y1="484.65" x2="857.30" y2="484.65" stroke="#000" stroke-width="2.4"/>
<text x="670.3" y="493.9" font-family="'Liberation Sans', Arial, Helvetica, sans-serif" font-size="24.5" text-anchor="end" font-weight="normal" font-style="normal" fill="#000" >5</text>
<line x1="683.30" y1="401.10" x2="695.70" y2="401.10" stroke="#000" stroke-width="2.4"/>
<line x1="869.70" y1="401.10" x2="857.30" y2="401.10" stroke="#000" stroke-width="2.4"/>
<text x="670.3" y="410.3" font-family="'Liberation Sans', Arial, Helvetica, sans-serif" font-size="24.5" text-anchor="end" font-weight="normal" font-style="normal" fill="#000" >10</text>
<line x1="683.30" y1="317.55" x2="695.70" y2="317.55" stroke="#000" stroke-width="2.4"/>
<line x1="869.70" y1="317.55" x2="857.30" y2="317.55" stroke="#000" stroke-width="2.4"/>
<text x="670.3" y="326.8" font-family="'Liberation Sans', Arial, Helvetica, sans-serif" font-size="24.5" text-anchor="end" font-weight="normal" font-style="normal" fill="#000" >15</text>
<line x1="683.30" y1="234.00" x2="695.70" y2="234.00" stroke="#000" stroke-width="2.4"/>
<line x1="869.70" y1="234.00" x2="857.30" y2="234.00" stroke="#000" stroke-width="2.4"/>
<text x="670.3" y="243.2" font-family="'Liberation Sans', Arial, Helvetica, sans-serif" font-size="24.5" text-anchor="end" font-weight="normal" font-style="normal" fill="#000" >20</text>
<line x1="683.30" y1="150.45" x2="695.70" y2="150.45" stroke="#000" stroke-width="2.4"/>
<line x1="869.70" y1="150.45" x2="857.30" y2="150.45" stroke="#000" stroke-width="2.4"/>
<text x="670.3" y="159.7" font-family="'Liberation Sans', Arial, Helvetica, sans-serif" font-size="24.5" text-anchor="end" font-weight="normal" font-style="normal" fill="#000" >25</text>
<line x1="683.30" y1="66.90" x2="695.70" y2="66.90" stroke="#000" stroke-width="2.4"/>
<line x1="869.70" y1="66.90" x2="857.30" y2="66.90" stroke="#000" stroke-width="2.4"/>
<text x="670.3" y="76.1" font-family="'Liberation Sans', Arial, Helvetica, sans-serif" font-size="24.5" text-anchor="end" font-weight="normal" font-style="normal" fill="#000" >30</text>
<line x1="745.43" y1="20.60" x2="745.43" y2="33.00" stroke="#000" stroke-width="2.4"/>
<line x1="745.43" y1="594.80" x2="745.43" y2="582.40" stroke="#000" stroke-width="2.4"/>
<line x1="807.57" y1="20.60" x2="807.57" y2="33.00" stroke="#000" stroke-width="2.4"/>
<line x1="807.57" y1="594.80" x2="807.57" y2="582.40" stroke="#000" stroke-width="2.4"/>
<text x="683.3" y="626.0" font-family="'Liberation Sans', Arial, Helvetica, sans-serif" font-size="24.5" text-anchor="middle" font-weight="normal" font-style="normal" fill="#000" >1.65</text>
<text x="745.4" y="626.0" font-family="'Liberation Sans', Arial, Helvetica, sans-serif" font-size="24.5" text-anchor="middle" font-weight="normal" font-style="normal" fill="#000" >1.66</text>
<text x="807.6" y="626.0" font-family="'Liberation Sans', Arial, Helvetica, sans-serif" font-size="24.5" text-anchor="middle" font-weight="normal" font-style="normal" fill="#000" >1.67</text>
<text x="869.7" y="626.0" font-family="'Liberation Sans', Arial, Helvetica, sans-serif" font-size="24.5" text-anchor="middle" font-weight="normal" font-style="normal" fill="#000" >1.68</text>
<text x="776.5" y="663.1" font-family="'Liberation Sans', Arial, Helvetica, sans-serif" font-size="24.5" text-anchor="middle" font-weight="normal" font-style="normal" fill="#000" >Energy (eV)</text>
<text transform="translate(620.8,309.5) rotate(-90)" font-family="'Liberation Sans', Arial, Helvetica, sans-serif" font-size="25.3" text-anchor="middle">PL Intensity (Counts&#183;10<tspan dy="-10" font-size="18">3</tspan><tspan dy="10">/s)</tspan></text>
<text x="912.0" y="52.5" font-family="'Liberation Sans', Arial, Helvetica, sans-serif" font-size="35" text-anchor="start" font-weight="bold" font-style="normal" fill="#231f20" >c</text>
<clipPath id="cc"><rect x="1013.5" y="20.6" width="711.5" height="574.1999999999999"/></clipPath>
<g clip-path="url(#cc)">
<polygon points="1013.5,600.0 1013.2,814.5 1013.3,807.7 1013.4,801.0 1013.5,794.3 1013.6,787.6 1013.7,781.0 1013.8,774.4 1013.9,767.8 1014.0,761.3 1014.1,754.8 1014.1,748.3 1014.2,741.9 1014.3,735.5 1014.4,729.2 1014.5,722.9 1014.6,716.6 1014.7,710.3 1014.8,704.1 1014.9,697.9 1015.0,691.8 1015.1,685.7 1015.2,679.6 1015.2,673.6 1015.3,667.6 1015.4,661.6 1015.5,655.7 1015.6,649.8 1015.7,643.9 1015.8,638.1 1015.9,632.3 1016.0,626.6 1016.1,620.9 1016.2,615.2 1016.3,609.5 1016.3,603.9 1016.4,598.3 1016.5,592.8 1016.6,587.3 1016.7,581.8 1016.8,576.4 1016.9,571.0 1017.0,565.6 1017.1,560.2 1017.2,555.0 1017.3,549.7 1017.4,544.5 1017.4,539.3 1017.5,534.1 1017.6,529.0 1017.7,523.9 1017.8,518.8 1017.9,513.8 1018.0,508.8 1018.1,503.9 1018.2,499.0 1018.3,494.1 1018.4,489.3 1018.5,484.5 1018.5,479.7 1018.6,474.9 1018.7,470.2 1018.8,465.6 1018.9,460.9 1019.0,456.3 1019.1,451.8 1019.2,447.3 1019.3,442.8 1019.4,438.3 1019.5,433.9 1019.5,429.5 1019.6,425.1 1019.7,420.8 1019.8,416.5 1019.9,412.3 1020.0,408.1 1020.1,403.9 1020.2,399.8 1020.3,395.7 1020.4,391.6 1020.5,387.6 1020.6,383.6 1020.6,379.6 1020.7,375.7 1020.8,371.8 1020.9,367.9 1021.0,364.1 1021.1,360.3 1021.2,356.5 1021.3,352.8 1021.4,349.1 1021.5,345.5 1021.6,341.9 1021.7,338.3 1021.7,334.7 1021.8,331.2 1021.9,327.8 1022.0,324.3 1022.1,320.9 1022.2,317.6 1022.3,314.2 1022.4,310.9 1022.5,307.7 1022.6,304.4 1022.7,301.2 1022.8,298.1 1022.8,295.0 1022.9,291.9 1023.0,288.8 1023.1,285.8 1023.2,282.8 1023.3,279.9 1023.4,277.0 1023.5,274.1 1023.6,271.2 1023.7,268.4 1023.8,265.6 1023.9,262.9 1023.9,260.2 1024.0,257.5 1024.1,254.9 1024.2,252.3 1024.3,249.8 1024.4,247.2 1024.5,244.7 1024.6,242.3 1024.7,239.8 1024.8,237.4 1024.9,234.9 1025.0,232.5 1025.0,230.0 1025.1,227.6 1025.2,225.1 1025.3,222.7 1025.4,220.2 1025.5,217.8 1025.6,215.3 1025.7,212.9 1025.8,210.4 1025.9,208.0 1026.0,205.5 1026.1,203.1 1026.1,200.6 1026.2,198.2 1026.3,195.7 1026.4,193.3 1026.5,190.8 1026.6,188.4 1026.7,185.9 1026.8,183.5 1026.9,181.0 1027.0,178.6 1027.1,176.1 1027.2,173.7 1027.2,171.2 1027.3,168.8 1027.4,166.3 1027.5,163.9 1027.6,161.4 1027.7,159.0 1027.8,156.5 1027.9,154.1 1028.0,151.6 1028.1,149.2 1028.2,146.7 1028.2,144.3 1028.3,141.8 1028.4,139.4 1028.5,136.9 1028.6,134.5 1028.7,132.0 1028.8,129.6 1028.9,127.1 1029.0,124.7 1029.1,122.2 1029.2,119.8 1029.3,117.3 1029.3,114.9 1029.4,112.4 1029.5,110.0 1029.6,107.5 1029.7,105.1 1029.8,102.6 1029.9,100.2 1030.0,97.7 1030.1,95.3 1030.2,92.8 1030.3,90.4 1030.4,87.9 1030.4,85.5 1030.5,83.0 1030.6,80.6 1030.7,78.1 1030.8,75.7 1030.9,73.2 1031.0,70.8 1031.1,68.3 1031.2,65.9 1031.3,63.4 1031.4,61.0 1031.5,58.5 1031.5,58.1 1031.6,59.6 1031.7,61.2 1031.8,62.7 1031.9,64.3 1032.0,65.9 1032.1,67.5 1032.2,69.2 1032.3,70.8 1032.4,72.5 1032.5,74.2 1032.6,75.8 1032.6,77.6 1032.7,79.3 1032.8,81.0 1032.9,82.8 1033.0,84.5 1033.1,86.3 1033.2,88.1 1033.3,89.9 1033.4,91.8 1033.5,93.6 1033.6,95.5 1033.7,97.4 1033.7,99.3 1033.8,101.2 1033.9,103.1 1034.0,105.0 1034.1,107.0 1034.2,108.9 1034.3,110.9 1034.4,112.9 1034.5,114.9 1034.6,117.0 1034.7,119.0 1034.8,121.1 1034.8,123.2 1034.9,125.3 1035.0,127.4 1035.1,129.5 1035.2,131.6 1035.3,133.8 1035.4,135.9 1035.5,138.1 1035.6,140.3 1035.7,142.5 1035.8,144.8 1035.8,147.0 1035.9,149.3 1036.0,151.6 1036.1,153.8 1036.2,156.1 1036.3,158.5 1036.4,160.8 1036.5,163.2 1036.6,165.5 1036.7,167.9 1036.8,170.3 1036.9,172.7 1036.9,175.1 1037.0,177.6 1037.1,180.1 1037.2,182.5 1037.3,185.0 1037.4,187.5 1037.5,190.0 1037.6,192.6 1037.7,195.1 1037.8,197.7 1037.9,200.3 1038.0,202.9 1038.0,205.5 1038.1,208.1 1038.2,210.8 1038.3,213.4 1038.4,216.1 1038.5,218.8 1038.6,221.5 1038.7,224.2 1038.8,226.9 1038.9,229.7 1039.0,232.5 1039.1,235.2 1039.1,238.0 1039.2,240.8 1039.3,243.7 1039.4,246.5 1039.5,249.4 1039.6,252.2 1039.7,255.1 1039.8,258.0 1039.9,261.0 1040.0,263.9 1040.1,266.8 1040.2,269.8 1040.2,272.8 1040.3,275.8 1040.4,278.8 1040.5,281.8 1040.6,284.9 1040.7,287.9 1040.8,291.0 1040.9,294.1 1041.0,297.2 1041.1,300.3 1041.2,303.4 1041.3,306.6 1041.3,309.7 1041.4,312.9 1041.5,316.1 1041.6,319.3 1041.7,322.6 1041.8,325.8 1041.9,329.1 1042.0,332.3 1042.1,335.6 1042.2,338.9 1042.3,342.2 1042.4,345.6 1042.4,348.9 1042.5,352.3 1042.6,355.7 1042.7,359.1 1042.8,362.5 1042.9,365.9 1043.0,369.3 1043.1,372.8 1043.2,376.3 1043.3,379.7 1043.4,383.2 1043.5,386.8 1043.5,390.3 1043.6,393.8 1043.7,397.4 1043.8,401.0 1043.9,404.6 1044.0,408.2 1044.1,411.8 1044.2,415.4 1044.3,419.1 1044.4,422.8 1044.5,426.5 1044.5,430.2 1044.6,433.9 1044.7,437.6 1044.8,441.3 1044.9,445.1 1045.0,448.9 1045.1,452.7 1045.2,456.5 1045.3,460.3 1045.4,464.1 1045.5,468.0 1045.6,471.9 1045.6,475.8 1045.7,479.7 1045.8,483.6 1045.9,487.5 1046.0,491.4 1046.1,495.4 1046.2,499.4 1046.3,503.4 1046.4,507.4 1046.5,511.4 1046.6,515.4 1046.7,519.5 1046.7,523.6 1046.8,527.6 1046.9,531.7 1047.0,535.9 1047.1,540.0 1047.2,544.1 1047.3,548.3 1047.4,552.5 1047.5,556.7 1047.6,560.9 1047.7,565.1 1047.8,569.3 1047.8,573.6 1047.9,577.8 1048.0,582.1 1048.1,586.4 1048.2,590.7 1048.3,595.1 1048.4,599.4 1048.5,603.8 1048.6,608.1 1048.7,612.5 1048.8,616.9 1048.9,621.4 1048.9,625.8 1049.0,630.2 1049.1,634.7 1049.2,639.2 1049.3,643.7 1049.4,648.2 1049.5,652.7 1049.6,657.3 1049.7,661.8 1049.8,666.4 1049.8,600.0" fill="#e3e3e3"/>
<polyline points="1013.2,814.5 1013.3,807.7 1013.4,801.0 1013.5,794.3 1013.6,787.6 1013.7,781.0 1013.8,774.4 1013.9,767.8 1014.0,761.3 1014.1,754.8 1014.1,748.3 1014.2,741.9 1014.3,735.5 1014.4,729.2 1014.5,722.9 1014.6,716.6 1014.7,710.3 1014.8,704.1 1014.9,697.9 1015.0,691.8 1015.1,685.7 1015.2,679.6 1015.2,673.6 1015.3,667.6 1015.4,661.6 1015.5,655.7 1015.6,649.8 1015.7,643.9 1015.8,638.1 1015.9,632.3 1016.0,626.6 1016.1,620.9 1016.2,615.2 1016.3,609.5 1016.3,603.9 1016.4,598.3 1016.5,592.8 1016.6,587.3 1016.7,581.8 1016.8,576.4 1016.9,571.0 1017.0,565.6 1017.1,560.2 1017.2,555.0 1017.3,549.7 1017.4,544.5 1017.4,539.3 1017.5,534.1 1017.6,529.0 1017.7,523.9 1017.8,518.8 1017.9,513.8 1018.0,508.8 1018.1,503.9 1018.2,499.0 1018.3,494.1 1018.4,489.3 1018.5,484.5 1018.5,479.7 1018.6,474.9 1018.7,470.2 1018.8,465.6 1018.9,460.9 1019.0,456.3 1019.1,451.8 1019.2,447.3 1019.3,442.8 1019.4,438.3 1019.5,433.9 1019.5,429.5 1019.6,425.1 1019.7,420.8 1019.8,416.5 1019.9,412.3 1020.0,408.1 1020.1,403.9 1020.2,399.8 1020.3,395.7 1020.4,391.6 1020.5,387.6 1020.6,383.6 1020.6,379.6 1020.7,375.7 1020.8,371.8 1020.9,367.9 1021.0,364.1 1021.1,360.3 1021.2,356.5 1021.3,352.8 1021.4,349.1 1021.5,345.5 1021.6,341.9 1021.7,338.3 1021.7,334.7 1021.8,331.2 1021.9,327.8 1022.0,324.3 1022.1,320.9 1022.2,317.6 1022.3,314.2 1022.4,310.9 1022.5,307.7 1022.6,304.4 1022.7,301.2 1022.8,298.1 1022.8,295.0 1022.9,291.9 1023.0,288.8 1023.1,285.8 1023.2,282.8 1023.3,279.9 1023.4,277.0 1023.5,274.1 1023.6,271.2 1023.7,268.4 1023.8,265.6 1023.9,262.9 1023.9,260.2 1024.0,257.5 1024.1,254.9 1024.2,252.3 1024.3,249.8 1024.4,247.2 1024.5,244.7 1024.6,242.3 1024.7,239.8 1024.8,237.4 1024.9,234.9 1025.0,232.5 1025.0,230.0 1025.1,227.6 1025.2,225.1 1025.3,222.7 1025.4,220.2 1025.5,217.8 1025.6,215.3 1025.7,212.9 1025.8,210.4 1025.9,208.0 1026.0,205.5 1026.1,203.1 1026.1,200.6 1026.2,198.2 1026.3,195.7 1026.4,193.3 1026.5,190.8 1026.6,188.4 1026.7,185.9 1026.8,183.5 1026.9,181.0 1027.0,178.6 1027.1,176.1 1027.2,173.7 1027.2,171.2 1027.3,168.8 1027.4,166.3 1027.5,163.9 1027.6,161.4 1027.7,159.0 1027.8,156.5 1027.9,154.1 1028.0,151.6 1028.1,149.2 1028.2,146.7 1028.2,144.3 1028.3,141.8 1028.4,139.4 1028.5,136.9 1028.6,134.5 1028.7,132.0 1028.8,129.6 1028.9,127.1 1029.0,124.7 1029.1,122.2 1029.2,119.8 1029.3,117.3 1029.3,114.9 1029.4,112.4 1029.5,110.0 1029.6,107.5 1029.7,105.1 1029.8,102.6 1029.9,100.2 1030.0,97.7 1030.1,95.3 1030.2,92.8 1030.3,90.4 1030.4,87.9 1030.4,85.5 1030.5,83.0 1030.6,80.6 1030.7,78.1 1030.8,75.7 1030.9,73.2 1031.0,70.8 1031.1,68.3 1031.2,65.9 1031.3,63.4 1031.4,61.0 1031.5,58.5 1031.5,58.1 1031.6,59.6 1031.7,61.2 1031.8,62.7 1031.9,64.3 1032.0,65.9 1032.1,67.5 1032.2,69.2 1032.3,70.8 1032.4,72.5 1032.5,74.2 1032.6,75.8 1032.6,77.6 1032.7,79.3 1032.8,81.0 1032.9,82.8 1033.0,84.5 1033.1,86.3 1033.2,88.1 1033.3,89.9 1033.4,91.8 1033.5,93.6 1033.6,95.5 1033.7,97.4 1033.7,99.3 1033.8,101.2 1033.9,103.1 1034.0,105.0 1034.1,107.0 1034.2,108.9 1034.3,110.9 1034.4,112.9 1034.5,114.9 1034.6,117.0 1034.7,119.0 1034.8,121.1 1034.8,123.2 1034.9,125.3 1035.0,127.4 1035.1,129.5 1035.2,131.6 1035.3,133.8 1035.4,135.9 1035.5,138.1 1035.6,140.3 1035.7,142.5 1035.8,144.8 1035.8,147.0 1035.9,149.3 1036.0,151.6 1036.1,153.8 1036.2,156.1 1036.3,158.5 1036.4,160.8 1036.5,163.2 1036.6,165.5 1036.7,167.9 1036.8,170.3 1036.9,172.7 1036.9,175.1 1037.0,177.6 1037.1,180.1 1037.2,182.5 1037.3,185.0 1037.4,187.5 1037.5,190.0 1037.6,192.6 1037.7,195.1 1037.8,197.7 1037.9,200.3 1038.0,202.9 1038.0,205.5 1038.1,208.1 1038.2,210.8 1038.3,213.4 1038.4,216.1 1038.5,218.8 1038.6,221.5 1038.7,224.2 1038.8,226.9 1038.9,229.7 1039.0,232.5 1039.1,235.2 1039.1,238.0 1039.2,240.8 1039.3,243.7 1039.4,246.5 1039.5,249.4 1039.6,252.2 1039.7,255.1 1039.8,258.0 1039.9,261.0 1040.0,263.9 1040.1,266.8 1040.2,269.8 1040.2,272.8 1040.3,275.8 1040.4,278.8 1040.5,281.8 1040.6,284.9 1040.7,287.9 1040.8,291.0 1040.9,294.1 1041.0,297.2 1041.1,300.3 1041.2,303.4 1041.3,306.6 1041.3,309.7 1041.4,312.9 1041.5,316.1 1041.6,319.3 1041.7,322.6 1041.8,325.8 1041.9,329.1 1042.0,332.3 1042.1,335.6 1042.2,338.9 1042.3,342.2 1042.4,345.6 1042.4,348.9 1042.5,352.3 1042.6,355.7 1042.7,359.1 1042.8,362.5 1042.9,365.9 1043.0,369.3 1043.1,372.8 1043.2,376.3 1043.3,379.7 1043.4,383.2 1043.5,386.8 1043.5,390.3 1043.6,393.8 1043.7,397.4 1043.8,401.0 1043.9,404.6 1044.0,408.2 1044.1,411.8 1044.2,415.4 1044.3,419.1 1044.4,422.8 1044.5,426.5 1044.5,430.2 1044.6,433.9 1044.7,437.6 1044.8,441.3 1044.9,445.1 1045.0,448.9 1045.1,452.7 1045.2,456.5 1045.3,460.3 1045.4,464.1 1045.5,468.0 1045.6,471.9 1045.6,475.8 1045.7,479.7 1045.8,483.6 1045.9,487.5 1046.0,491.4 1046.1,495.4 1046.2,499.4 1046.3,503.4 1046.4,507.4 1046.5,511.4 1046.6,515.4 1046.7,519.5 1046.7,523.6 1046.8,527.6 1046.9,531.7 1047.0,535.9 1047.1,540.0 1047.2,544.1 1047.3,548.3 1047.4,552.5 1047.5,556.7 1047.6,560.9 1047.7,565.1 1047.8,569.3 1047.8,573.6 1047.9,577.8 1048.0,582.1 1048.1,586.4 1048.2,590.7 1048.3,595.1 1048.4,599.4 1048.5,603.8 1048.6,608.1 1048.7,612.5 1048.8,616.9 1048.9,621.4 1048.9,625.8 1049.0,630.2 1049.1,634.7 1049.2,639.2 1049.3,643.7 1049.4,648.2 1049.5,652.7 1049.6,657.3 1049.7,661.8 1049.8,666.4" fill="none" stroke="#000" stroke-width="1.8" stroke-dasharray="1.8,2.9"/>
<polyline points="1013.2,653.1 1017.8,481.6 1022.4,307.8 1026.9,159.7 1031.5,112.8 1036.1,84.6 1040.6,84.0 1045.2,76.3 1049.8,73.6 1054.3,79.0 1058.9,73.4 1063.5,75.1 1068.0,71.8 1072.6,74.4 1077.2,88.5 1081.7,89.1 1086.3,78.4 1090.9,75.1 1095.4,88.3 1100.0,95.1 1104.6,85.3 1109.1,97.0 1113.7,91.8 1118.3,88.1 1122.8,96.5 1127.4,104.7 1132.0,104.3 1136.6,118.5 1141.1,119.5 1145.7,124.1 1150.3,123.2 1154.8,127.0 1159.4,126.5 1164.0,129.9 1168.5,128.3 1173.1,130.5 1177.7,130.7 1182.2,157.0 1186.8,150.2 1191.4,131.0 1195.9,145.6 1200.5,157.7 1205.1,153.5 1209.6,155.6 1214.2,151.9 1218.8,172.7 1223.3,165.8 1227.9,170.1 1232.5,188.7 1237.0,189.8 1241.6,179.8 1246.2,184.1 1250.7,185.8 1255.3,193.2 1259.9,197.0 1264.4,202.0 1269.0,194.7 1273.6,215.3 1278.1,180.7 1282.7,207.9 1287.3,228.0 1291.8,204.9 1296.4,228.4 1301.0,225.3 1305.5,207.7 1310.1,241.9 1314.7,244.5 1319.3,229.2 1323.8,261.2 1328.4,257.2 1333.0,250.1 1337.5,253.2 1342.1,254.3 1346.7,261.4 1351.2,255.7 1355.8,263.9 1360.4,273.1 1364.9,289.1 1369.5,291.5 1374.1,306.7 1378.6,280.0 1383.2,309.9 1387.8,281.7 1392.3,272.6 1396.9,307.4 1401.5,306.6 1406.0,307.6 1410.6,295.9 1415.2,319.1 1419.7,314.1 1424.3,322.5 1428.9,322.9 1433.4,269.3 1438.0,338.4 1442.6,328.8 1447.1,329.5 1451.7,325.2 1456.3,357.0 1460.8,354.6 1465.4,345.5 1470.0,344.7 1474.5,361.8 1479.1,391.7 1483.7,385.0 1488.2,371.2 1492.8,385.3 1497.4,389.6 1502.0,366.3 1506.5,363.3 1511.1,401.4 1515.7,377.7 1520.2,442.4 1524.8,449.3 1529.4,408.6 1533.9,430.2 1538.5,421.0 1543.1,445.1 1547.6,464.1 1552.2,427.9 1556.8,438.8 1561.3,468.6 1565.9,441.3 1570.5,443.3 1575.0,417.4 1579.6,467.8 1584.2,477.0 1588.7,460.5 1593.3,457.8 1597.9,429.6 1602.4,456.6 1607.0,476.6 1611.6,471.2 1616.1,465.6 1620.7,499.2 1625.3,488.2 1629.8,457.6 1634.4,472.0 1639.0,491.5 1643.5,502.6 1648.1,499.7 1652.7,529.0 1657.2,485.3 1661.8,499.9 1666.4,507.0 1670.9,538.1 1675.5,529.9 1680.1,508.8 1684.7,516.7 1689.2,534.8 1693.8,516.3 1698.4,509.0 1702.9,543.1 1707.5,541.8 1712.1,555.1 1716.6,567.5 1721.2,532.6 1725.8,544.7 1730.3,551.4" fill="none" stroke="#fcad14" stroke-width="1.6"/>
<g fill="#fcad14"><circle cx="1017.8" cy="481.6" r="6.8"/><circle cx="1022.4" cy="307.8" r="6.8"/><circle cx="1026.9" cy="159.7" r="6.8"/><circle cx="1031.5" cy="112.8" r="6.8"/><circle cx="1036.1" cy="84.6" r="6.8"/><circle cx="1040.6" cy="84.0" r="6.8"/><circle cx="1045.2" cy="76.3" r="6.8"/><circle cx="1049.8" cy="73.6" r="6.8"/><circle cx="1054.3" cy="79.0" r="6.8"/><circle cx="1058.9" cy="73.4" r="6.8"/><circle cx="1063.5" cy="75.1" r="6.8"/><circle cx="1068.0" cy="71.8" r="6.8"/><circle cx="1072.6" cy="74.4" r="6.8"/><circle cx="1077.2" cy="88.5" r="6.8"/><circle cx="1081.7" cy="89.1" r="6.8"/><circle cx="1086.3" cy="78.4" r="6.8"/><circle cx="1090.9" cy="75.1" r="6.8"/><circle cx="1095.4" cy="88.3" r="6.8"/><circle cx="1100.0" cy="95.1" r="6.8"/><circle cx="1104.6" cy="85.3" r="6.8"/><circle cx="1109.1" cy="97.0" r="6.8"/><circle cx="1113.7" cy="91.8" r="6.8"/><circle cx="1118.3" cy="88.1" r="6.8"/><circle cx="1122.8" cy="96.5" r="6.8"/><circle cx="1127.4" cy="104.7" r="6.8"/><circle cx="1132.0" cy="104.3" r="6.8"/><circle cx="1136.6" cy="118.5" r="6.8"/><circle cx="1141.1" cy="119.5" r="6.8"/><circle cx="1145.7" cy="124.1" r="6.8"/><circle cx="1150.3" cy="123.2" r="6.8"/><circle cx="1154.8" cy="127.0" r="6.8"/><circle cx="1159.4" cy="126.5" r="6.8"/><circle cx="1164.0" cy="129.9" r="6.8"/><circle cx="1168.5" cy="128.3" r="6.8"/><circle cx="1173.1" cy="130.5" r="6.8"/><circle cx="1177.7" cy="130.7" r="6.8"/><circle cx="1182.2" cy="157.0" r="6.8"/><circle cx="1186.8" cy="150.2" r="6.8"/><circle cx="1191.4" cy="131.0" r="6.8"/><circle cx="1195.9" cy="145.6" r="6.8"/><circle cx="1200.5" cy="157.7" r="6.8"/><circle cx="1205.1" cy="153.5" r="6.8"/><circle cx="1209.6" cy="155.6" r="6.8"/><circle cx="1214.2" cy="151.9" r="6.8"/><circle cx="1218.8" cy="172.7" r="6.8"/><circle cx="1223.3" cy="165.8" r="6.8"/><circle cx="1227.9" cy="170.1" r="6.8"/><circle cx="1232.5" cy="188.7" r="6.8"/><circle cx="1237.0" cy="189.8" r="6.8"/><circle cx="1241.6" cy="179.8" r="6.8"/><circle cx="1246.2" cy="184.1" r="6.8"/><circle cx="1250.7" cy="185.8" r="6.8"/><circle cx="1255.3" cy="193.2" r="6.8"/><circle cx="1259.9" cy="197.0" r="6.8"/><circle cx="1264.4" cy="202.0" r="6.8"/><circle cx="1269.0" cy="194.7" r="6.8"/><circle cx="1273.6" cy="215.3" r="6.8"/><circle cx="1278.1" cy="180.7" r="6.8"/><circle cx="1282.7" cy="207.9" r="6.8"/><circle cx="1287.3" cy="228.0" r="6.8"/><circle cx="1291.8" cy="204.9" r="6.8"/><circle cx="1296.4" cy="228.4" r="6.8"/><circle cx="1301.0" cy="225.3" r="6.8"/><circle cx="1305.5" cy="207.7" r="6.8"/><circle cx="1310.1" cy="241.9" r="6.8"/><circle cx="1314.7" cy="244.5" r="6.8"/><circle cx="1319.3" cy="229.2" r="6.8"/><circle cx="1323.8" cy="261.2" r="6.8"/><circle cx="1328.4" cy="257.2" r="6.8"/><circle cx="1333.0" cy="250.1" r="6.8"/><circle cx="1337.5" cy="253.2" r="6.8"/><circle cx="1342.1" cy="254.3" r="6.8"/><circle cx="1346.7" cy="261.4" r="6.8"/><circle cx="1351.2" cy="255.7" r="6.8"/><circle cx="1355.8" cy="263.9" r="6.8"/><circle cx="1360.4" cy="273.1" r="6.8"/><circle cx="1364.9" cy="289.1" r="6.8"/><circle cx="1369.5" cy="291.5" r="6.8"/><circle cx="1374.1" cy="306.7" r="6.8"/><circle cx="1378.6" cy="280.0" r="6.8"/><circle cx="1383.2" cy="309.9" r="6.8"/><circle cx="1387.8" cy="281.7" r="6.8"/><circle cx="1392.3" cy="272.6" r="6.8"/><circle cx="1396.9" cy="307.4" r="6.8"/><circle cx="1401.5" cy="306.6" r="6.8"/><circle cx="1406.0" cy="307.6" r="6.8"/><circle cx="1410.6" cy="295.9" r="6.8"/><circle cx="1415.2" cy="319.1" r="6.8"/><circle cx="1419.7" cy="314.1" r="6.8"/><circle cx="1424.3" cy="322.5" r="6.8"/><circle cx="1428.9" cy="322.9" r="6.8"/><circle cx="1433.4" cy="269.3" r="6.8"/><circle cx="1438.0" cy="338.4" r="6.8"/><circle cx="1442.6" cy="328.8" r="6.8"/><circle cx="1447.1" cy="329.5" r="6.8"/><circle cx="1451.7" cy="325.2" r="6.8"/><circle cx="1456.3" cy="357.0" r="6.8"/><circle cx="1460.8" cy="354.6" r="6.8"/><circle cx="1465.4" cy="345.5" r="6.8"/><circle cx="1470.0" cy="344.7" r="6.8"/><circle cx="1474.5" cy="361.8" r="6.8"/><circle cx="1479.1" cy="391.7" r="6.8"/><circle cx="1483.7" cy="385.0" r="6.8"/><circle cx="1488.2" cy="371.2" r="6.8"/><circle cx="1492.8" cy="385.3" r="6.8"/><circle cx="1497.4" cy="389.6" r="6.8"/><circle cx="1502.0" cy="366.3" r="6.8"/><circle cx="1506.5" cy="363.3" r="6.8"/><circle cx="1511.1" cy="401.4" r="6.8"/><circle cx="1515.7" cy="377.7" r="6.8"/><circle cx="1520.2" cy="442.4" r="6.8"/><circle cx="1524.8" cy="449.3" r="6.8"/><circle cx="1529.4" cy="408.6" r="6.8"/><circle cx="1533.9" cy="430.2" r="6.8"/><circle cx="1538.5" cy="421.0" r="6.8"/><circle cx="1543.1" cy="445.1" r="6.8"/><circle cx="1547.6" cy="464.1" r="6.8"/><circle cx="1552.2" cy="427.9" r="6.8"/><circle cx="1556.8" cy="438.8" r="6.8"/><circle cx="1561.3" cy="468.6" r="6.8"/><circle cx="1565.9" cy="441.3" r="6.8"/><circle cx="1570.5" cy="443.3" r="6.8"/><circle cx="1575.0" cy="417.4" r="6.8"/><circle cx="1579.6" cy="467.8" r="6.8"/><circle cx="1584.2" cy="477.0" r="6.8"/><circle cx="1588.7" cy="460.5" r="6.8"/><circle cx="1593.3" cy="457.8" r="6.8"/><circle cx="1597.9" cy="429.6" r="6.8"/><circle cx="1602.4" cy="456.6" r="6.8"/><circle cx="1607.0" cy="476.6" r="6.8"/><circle cx="1611.6" cy="471.2" r="6.8"/><circle cx="1616.1" cy="465.6" r="6.8"/><circle cx="1620.7" cy="499.2" r="6.8"/><circle cx="1625.3" cy="488.2" r="6.8"/><circle cx="1629.8" cy="457.6" r="6.8"/><circle cx="1634.4" cy="472.0" r="6.8"/><circle cx="1639.0" cy="491.5" r="6.8"/><circle cx="1643.5" cy="502.6" r="6.8"/><circle cx="1648.1" cy="499.7" r="6.8"/><circle cx="1652.7" cy="529.0" r="6.8"/><circle cx="1657.2" cy="485.3" r="6.8"/><circle cx="1661.8" cy="499.9" r="6.8"/><circle cx="1666.4" cy="507.0" r="6.8"/><circle cx="1670.9" cy="538.1" r="6.8"/><circle cx="1675.5" cy="529.9" r="6.8"/><circle cx="1680.1" cy="508.8" r="6.8"/><circle cx="1684.7" cy="516.7" r="6.8"/><circle cx="1689.2" cy="534.8" r="6.8"/><circle cx="1693.8" cy="516.3" r="6.8"/><circle cx="1698.4" cy="509.0" r="6.8"/><circle cx="1702.9" cy="543.1" r="6.8"/><circle cx="1707.5" cy="541.8" r="6.8"/><circle cx="1712.1" cy="555.1" r="6.8"/><circle cx="1716.6" cy="567.5" r="6.8"/><circle cx="1721.2" cy="532.6" r="6.8"/><circle cx="1725.8" cy="544.7" r="6.8"/><circle cx="1730.3" cy="551.4" r="6.8"/></g>
<polyline points="1013.2,705.4 1017.8,553.6 1022.4,365.5 1026.9,232.0 1031.5,128.3 1036.1,111.5 1040.6,82.1 1045.2,76.8 1049.8,75.0 1054.3,61.8 1058.9,72.6 1063.5,83.7 1068.0,60.6 1072.6,74.9 1077.2,57.8 1081.7,66.6 1086.3,58.6 1090.9,71.6 1095.4,73.0 1100.0,59.2 1104.6,64.4 1109.1,68.1 1113.7,66.2 1118.3,68.3 1122.8,80.6 1127.4,90.1 1132.0,89.2 1136.6,92.5 1141.1,98.0 1145.7,88.7 1150.3,89.0 1154.8,86.9 1159.4,86.3 1164.0,91.6 1168.5,91.9 1173.1,90.9 1177.7,99.4 1182.2,100.9 1186.8,99.1 1191.4,107.6 1195.9,110.3 1200.5,109.9 1205.1,102.5 1209.6,112.7 1214.2,120.4 1218.8,124.3 1223.3,122.9 1227.9,107.5 1232.5,181.8 1237.0,126.0 1241.6,132.0 1246.2,130.9 1250.7,150.2 1255.3,126.6 1259.9,136.9 1264.4,146.8 1269.0,146.9 1273.6,156.3 1278.1,152.8 1282.7,156.9 1287.3,150.6 1291.8,158.1 1296.4,131.5 1301.0,160.9 1305.5,164.6 1310.1,169.7 1314.7,186.9 1319.3,167.8 1323.8,188.8 1328.4,189.7 1333.0,184.1 1337.5,181.0 1342.1,175.4 1346.7,170.5 1351.2,183.6 1355.8,186.5 1360.4,209.9 1364.9,211.7 1369.5,219.3 1374.1,223.8 1378.6,235.0 1383.2,242.3 1387.8,231.9 1392.3,231.2 1396.9,219.6 1401.5,250.0 1406.0,263.4 1410.6,243.7 1415.2,252.4 1419.7,249.5 1424.3,262.7 1428.9,277.3 1433.4,276.9 1438.0,265.8 1442.6,276.3 1447.1,294.7 1451.7,279.2 1456.3,306.4 1460.8,297.5 1465.4,290.6 1470.0,309.5 1474.5,308.4 1479.1,295.5 1483.7,297.4 1488.2,300.2 1492.8,306.4 1497.4,315.2 1502.0,314.1 1506.5,272.1 1511.1,318.0 1515.7,330.6 1520.2,323.7 1524.8,303.3 1529.4,308.3 1533.9,321.1 1538.5,338.0 1543.1,350.7 1547.6,325.5 1552.2,358.1 1556.8,400.8 1561.3,330.3 1565.9,333.2 1570.5,354.0 1575.0,359.9 1579.6,367.7 1584.2,358.1 1588.7,373.3 1593.3,391.4 1597.9,385.3 1602.4,356.6 1607.0,410.3 1611.6,408.3 1616.1,398.8 1620.7,379.9 1625.3,406.6 1629.8,413.1 1634.4,388.3 1639.0,434.8 1643.5,430.4 1648.1,406.8 1652.7,403.7 1657.2,416.0 1661.8,466.9 1666.4,417.2 1670.9,421.0 1675.5,434.9 1680.1,428.9 1684.7,420.7 1689.2,446.8 1693.8,465.3 1698.4,482.6 1702.9,453.0 1707.5,468.3 1712.1,466.4 1716.6,476.8 1721.2,453.8 1725.8,446.7 1730.3,416.6" fill="none" stroke="#bc3754" stroke-width="1.6"/>
<g fill="#bc3754"><circle cx="1017.8" cy="553.6" r="6.8"/><circle cx="1022.4" cy="365.5" r="6.8"/><circle cx="1026.9" cy="232.0" r="6.8"/><circle cx="1031.5" cy="128.3" r="6.8"/><circle cx="1036.1" cy="111.5" r="6.8"/><circle cx="1040.6" cy="82.1" r="6.8"/><circle cx="1045.2" cy="76.8" r="6.8"/><circle cx="1049.8" cy="75.0" r="6.8"/><circle cx="1054.3" cy="61.8" r="6.8"/><circle cx="1058.9" cy="72.6" r="6.8"/><circle cx="1063.5" cy="83.7" r="6.8"/><circle cx="1068.0" cy="60.6" r="6.8"/><circle cx="1072.6" cy="74.9" r="6.8"/><circle cx="1077.2" cy="57.8" r="6.8"/><circle cx="1081.7" cy="66.6" r="6.8"/><circle cx="1086.3" cy="58.6" r="6.8"/><circle cx="1090.9" cy="71.6" r="6.8"/><circle cx="1095.4" cy="73.0" r="6.8"/><circle cx="1100.0" cy="59.2" r="6.8"/><circle cx="1104.6" cy="64.4" r="6.8"/><circle cx="1109.1" cy="68.1" r="6.8"/><circle cx="1113.7" cy="66.2" r="6.8"/><circle cx="1118.3" cy="68.3" r="6.8"/><circle cx="1122.8" cy="80.6" r="6.8"/><circle cx="1127.4" cy="90.1" r="6.8"/><circle cx="1132.0" cy="89.2" r="6.8"/><circle cx="1136.6" cy="92.5" r="6.8"/><circle cx="1141.1" cy="98.0" r="6.8"/><circle cx="1145.7" cy="88.7" r="6.8"/><circle cx="1150.3" cy="89.0" r="6.8"/><circle cx="1154.8" cy="86.9" r="6.8"/><circle cx="1159.4" cy="86.3" r="6.8"/><circle cx="1164.0" cy="91.6" r="6.8"/><circle cx="1168.5" cy="91.9" r="6.8"/><circle cx="1173.1" cy="90.9" r="6.8"/><circle cx="1177.7" cy="99.4" r="6.8"/><circle cx="1182.2" cy="100.9" r="6.8"/><circle cx="1186.8" cy="99.1" r="6.8"/><circle cx="1191.4" cy="107.6" r="6.8"/><circle cx="1195.9" cy="110.3" r="6.8"/><circle cx="1200.5" cy="109.9" r="6.8"/><circle cx="1205.1" cy="102.5" r="6.8"/><circle cx="1209.6" cy="112.7" r="6.8"/><circle cx="1214.2" cy="120.4" r="6.8"/><circle cx="1218.8" cy="124.3" r="6.8"/><circle cx="1223.3" cy="122.9" r="6.8"/><circle cx="1227.9" cy="107.5" r="6.8"/><circle cx="1232.5" cy="181.8" r="6.8"/><circle cx="1237.0" cy="126.0" r="6.8"/><circle cx="1241.6" cy="132.0" r="6.8"/><circle cx="1246.2" cy="130.9" r="6.8"/><circle cx="1250.7" cy="150.2" r="6.8"/><circle cx="1255.3" cy="126.6" r="6.8"/><circle cx="1259.9" cy="136.9" r="6.8"/><circle cx="1264.4" cy="146.8" r="6.8"/><circle cx="1269.0" cy="146.9" r="6.8"/><circle cx="1273.6" cy="156.3" r="6.8"/><circle cx="1278.1" cy="152.8" r="6.8"/><circle cx="1282.7" cy="156.9" r="6.8"/><circle cx="1287.3" cy="150.6" r="6.8"/><circle cx="1291.8" cy="158.1" r="6.8"/><circle cx="1296.4" cy="131.5" r="6.8"/><circle cx="1301.0" cy="160.9" r="6.8"/><circle cx="1305.5" cy="164.6" r="6.8"/><circle cx="1310.1" cy="169.7" r="6.8"/><circle cx="1314.7" cy="186.9" r="6.8"/><circle cx="1319.3" cy="167.8" r="6.8"/><circle cx="1323.8" cy="188.8" r="6.8"/><circle cx="1328.4" cy="189.7" r="6.8"/><circle cx="1333.0" cy="184.1" r="6.8"/><circle cx="1337.5" cy="181.0" r="6.8"/><circle cx="1342.1" cy="175.4" r="6.8"/><circle cx="1346.7" cy="170.5" r="6.8"/><circle cx="1351.2" cy="183.6" r="6.8"/><circle cx="1355.8" cy="186.5" r="6.8"/><circle cx="1360.4" cy="209.9" r="6.8"/><circle cx="1364.9" cy="211.7" r="6.8"/><circle cx="1369.5" cy="219.3" r="6.8"/><circle cx="1374.1" cy="223.8" r="6.8"/><circle cx="1378.6" cy="235.0" r="6.8"/><circle cx="1383.2" cy="242.3" r="6.8"/><circle cx="1387.8" cy="231.9" r="6.8"/><circle cx="1392.3" cy="231.2" r="6.8"/><circle cx="1396.9" cy="219.6" r="6.8"/><circle cx="1401.5" cy="250.0" r="6.8"/><circle cx="1406.0" cy="263.4" r="6.8"/><circle cx="1410.6" cy="243.7" r="6.8"/><circle cx="1415.2" cy="252.4" r="6.8"/><circle cx="1419.7" cy="249.5" r="6.8"/><circle cx="1424.3" cy="262.7" r="6.8"/><circle cx="1428.9" cy="277.3" r="6.8"/><circle cx="1433.4" cy="276.9" r="6.8"/><circle cx="1438.0" cy="265.8" r="6.8"/><circle cx="1442.6" cy="276.3" r="6.8"/><circle cx="1447.1" cy="294.7" r="6.8"/><circle cx="1451.7" cy="279.2" r="6.8"/><circle cx="1456.3" cy="306.4" r="6.8"/><circle cx="1460.8" cy="297.5" r="6.8"/><circle cx="1465.4" cy="290.6" r="6.8"/><circle cx="1470.0" cy="309.5" r="6.8"/><circle cx="1474.5" cy="308.4" r="6.8"/><circle cx="1479.1" cy="295.5" r="6.8"/><circle cx="1483.7" cy="297.4" r="6.8"/><circle cx="1488.2" cy="300.2" r="6.8"/><circle cx="1492.8" cy="306.4" r="6.8"/><circle cx="1497.4" cy="315.2" r="6.8"/><circle cx="1502.0" cy="314.1" r="6.8"/><circle cx="1506.5" cy="272.1" r="6.8"/><circle cx="1511.1" cy="318.0" r="6.8"/><circle cx="1515.7" cy="330.6" r="6.8"/><circle cx="1520.2" cy="323.7" r="6.8"/><circle cx="1524.8" cy="303.3" r="6.8"/><circle cx="1529.4" cy="308.3" r="6.8"/><circle cx="1533.9" cy="321.1" r="6.8"/><circle cx="1538.5" cy="338.0" r="6.8"/><circle cx="1543.1" cy="350.7" r="6.8"/><circle cx="1547.6" cy="325.5" r="6.8"/><circle cx="1552.2" cy="358.1" r="6.8"/><circle cx="1556.8" cy="400.8" r="6.8"/><circle cx="1561.3" cy="330.3" r="6.8"/><circle cx="1565.9" cy="333.2" r="6.8"/><circle cx="1570.5" cy="354.0" r="6.8"/><circle cx="1575.0" cy="359.9" r="6.8"/><circle cx="1579.6" cy="367.7" r="6.8"/><circle cx="1584.2" cy="358.1" r="6.8"/><circle cx="1588.7" cy="373.3" r="6.8"/><circle cx="1593.3" cy="391.4" r="6.8"/><circle cx="1597.9" cy="385.3" r="6.8"/><circle cx="1602.4" cy="356.6" r="6.8"/><circle cx="1607.0" cy="410.3" r="6.8"/><circle cx="1611.6" cy="408.3" r="6.8"/><circle cx="1616.1" cy="398.8" r="6.8"/><circle cx="1620.7" cy="379.9" r="6.8"/><circle cx="1625.3" cy="406.6" r="6.8"/><circle cx="1629.8" cy="413.1" r="6.8"/><circle cx="1634.4" cy="388.3" r="6.8"/><circle cx="1639.0" cy="434.8" r="6.8"/><circle cx="1643.5" cy="430.4" r="6.8"/><circle cx="1648.1" cy="406.8" r="6.8"/><circle cx="1652.7" cy="403.7" r="6.8"/><circle cx="1657.2" cy="416.0" r="6.8"/><circle cx="1661.8" cy="466.9" r="6.8"/><circle cx="1666.4" cy="417.2" r="6.8"/><circle cx="1670.9" cy="421.0" r="6.8"/><circle cx="1675.5" cy="434.9" r="6.8"/><circle cx="1680.1" cy="428.9" r="6.8"/><circle cx="1684.7" cy="420.7" r="6.8"/><circle cx="1689.2" cy="446.8" r="6.8"/><circle cx="1693.8" cy="465.3" r="6.8"/><circle cx="1698.4" cy="482.6" r="6.8"/><circle cx="1702.9" cy="453.0" r="6.8"/><circle cx="1707.5" cy="468.3" r="6.8"/><circle cx="1712.1" cy="466.4" r="6.8"/><circle cx="1716.6" cy="476.8" r="6.8"/><circle cx="1721.2" cy="453.8" r="6.8"/><circle cx="1725.8" cy="446.7" r="6.8"/><circle cx="1730.3" cy="416.6" r="6.8"/></g>
<polyline points="1013.2,740.4 1017.8,614.2 1022.4,503.8 1026.9,308.9 1031.5,199.9 1036.1,148.5 1040.6,154.7 1045.2,133.2 1049.8,117.9 1054.3,112.5 1058.9,97.7 1063.5,103.1 1068.0,102.7 1072.6,92.4 1077.2,79.6 1081.7,82.6 1086.3,82.0 1090.9,61.8 1095.4,73.3 1100.0,76.6 1104.6,82.8 1109.1,61.1 1113.7,60.6 1118.3,75.4 1122.8,41.7 1127.4,64.1 1132.0,82.9 1136.6,73.9 1141.1,93.1 1145.7,117.1 1150.3,68.8 1154.8,56.1 1159.4,77.4 1164.0,103.2 1168.5,68.5 1173.1,65.1 1177.7,97.3 1182.2,82.9 1186.8,96.3 1191.4,106.2 1195.9,75.8 1200.5,65.0 1205.1,79.8 1209.6,82.2 1214.2,90.4 1218.8,85.5 1223.3,97.5 1227.9,92.6 1232.5,98.6 1237.0,93.2 1241.6,99.0 1246.2,109.9 1250.7,113.8 1255.3,118.3 1259.9,103.1 1264.4,99.6 1269.0,122.9 1273.6,117.8 1278.1,93.7 1282.7,130.6 1287.3,131.7 1291.8,173.1 1296.4,148.2 1301.0,137.8 1305.5,126.9 1310.1,123.5 1314.7,114.4 1319.3,139.3 1323.8,130.2 1328.4,117.3 1333.0,149.3 1337.5,149.3 1342.1,175.9 1346.7,140.3 1351.2,194.2 1355.8,147.5 1360.4,163.3 1364.9,151.6 1369.5,163.2 1374.1,185.7 1378.6,155.1 1383.2,180.4 1387.8,179.2 1392.3,165.9 1396.9,168.8 1401.5,179.1 1406.0,210.6 1410.6,181.0 1415.2,215.9 1419.7,202.4 1424.3,226.8 1428.9,198.3 1433.4,191.8 1438.0,209.4 1442.6,201.3 1447.1,228.4 1451.7,220.0 1456.3,231.7 1460.8,238.9 1465.4,230.2 1470.0,238.6 1474.5,238.6 1479.1,241.0 1483.7,238.4 1488.2,238.9 1492.8,239.5 1497.4,264.0 1502.0,249.0 1506.5,284.5 1511.1,262.3 1515.7,265.7 1520.2,303.4 1524.8,300.8 1529.4,235.6 1533.9,311.6 1538.5,287.7 1543.1,290.7 1547.6,281.2 1552.2,286.1 1556.8,279.0 1561.3,261.7 1565.9,261.5 1570.5,293.3 1575.0,313.8 1579.6,346.5 1584.2,317.3 1588.7,306.9 1593.3,308.5 1597.9,307.6 1602.4,329.8 1607.0,373.7 1611.6,349.1 1616.1,332.3 1620.7,368.4 1625.3,340.1 1629.8,358.3 1634.4,352.3 1639.0,350.7 1643.5,324.9 1648.1,354.7 1652.7,360.7 1657.2,341.4 1661.8,384.7 1666.4,390.9 1670.9,435.5 1675.5,404.2 1680.1,417.4 1684.7,461.1 1689.2,399.3 1693.8,411.6 1698.4,402.5 1702.9,420.2 1707.5,408.5 1712.1,424.4 1716.6,416.9 1721.2,358.9 1725.8,414.0 1730.3,417.5" fill="none" stroke="#350a5e" stroke-width="1.6"/>
<g fill="#350a5e"><circle cx="1022.4" cy="503.8" r="6.8"/><circle cx="1026.9" cy="308.9" r="6.8"/><circle cx="1031.5" cy="199.9" r="6.8"/><circle cx="1036.1" cy="148.5" r="6.8"/><circle cx="1040.6" cy="154.7" r="6.8"/><circle cx="1045.2" cy="133.2" r="6.8"/><circle cx="1049.8" cy="117.9" r="6.8"/><circle cx="1054.3" cy="112.5" r="6.8"/><circle cx="1058.9" cy="97.7" r="6.8"/><circle cx="1063.5" cy="103.1" r="6.8"/><circle cx="1068.0" cy="102.7" r="6.8"/><circle cx="1072.6" cy="92.4" r="6.8"/><circle cx="1077.2" cy="79.6" r="6.8"/><circle cx="1081.7" cy="82.6" r="6.8"/><circle cx="1086.3" cy="82.0" r="6.8"/><circle cx="1090.9" cy="61.8" r="6.8"/><circle cx="1095.4" cy="73.3" r="6.8"/><circle cx="1100.0" cy="76.6" r="6.8"/><circle cx="1104.6" cy="82.8" r="6.8"/><circle cx="1109.1" cy="61.1" r="6.8"/><circle cx="1113.7" cy="60.6" r="6.8"/><circle cx="1118.3" cy="75.4" r="6.8"/><circle cx="1122.8" cy="41.7" r="6.8"/><circle cx="1127.4" cy="64.1" r="6.8"/><circle cx="1132.0" cy="82.9" r="6.8"/><circle cx="1136.6" cy="73.9" r="6.8"/><circle cx="1141.1" cy="93.1" r="6.8"/><circle cx="1145.7" cy="117.1" r="6.8"/><circle cx="1150.3" cy="68.8" r="6.8"/><circle cx="1154.8" cy="56.1" r="6.8"/><circle cx="1159.4" cy="77.4" r="6.8"/><circle cx="1164.0" cy="103.2" r="6.8"/><circle cx="1168.5" cy="68.5" r="6.8"/><circle cx="1173.1" cy="65.1" r="6.8"/><circle cx="1177.7" cy="97.3" r="6.8"/><circle cx="1182.2" cy="82.9" r="6.8"/><circle cx="1186.8" cy="96.3" r="6.8"/><circle cx="1191.4" cy="106.2" r="6.8"/><circle cx="1195.9" cy="75.8" r="6.8"/><circle cx="1200.5" cy="65.0" r="6.8"/><circle cx="1205.1" cy="79.8" r="6.8"/><circle cx="1209.6" cy="82.2" r="6.8"/><circle cx="1214.2" cy="90.4" r="6.8"/><circle cx="1218.8" cy="85.5" r="6.8"/><circle cx="1223.3" cy="97.5" r="6.8"/><circle cx="1227.9" cy="92.6" r="6.8"/><circle cx="1232.5" cy="98.6" r="6.8"/><circle cx="1237.0" cy="93.2" r="6.8"/><circle cx="1241.6" cy="99.0" r="6.8"/><circle cx="1246.2" cy="109.9" r="6.8"/><circle cx="1250.7" cy="113.8" r="6.8"/><circle cx="1255.3" cy="118.3" r="6.8"/><circle cx="1259.9" cy="103.1" r="6.8"/><circle cx="1264.4" cy="99.6" r="6.8"/><circle cx="1269.0" cy="122.9" r="6.8"/><circle cx="1273.6" cy="117.8" r="6.8"/><circle cx="1278.1" cy="93.7" r="6.8"/><circle cx="1282.7" cy="130.6" r="6.8"/><circle cx="1287.3" cy="131.7" r="6.8"/><circle cx="1291.8" cy="173.1" r="6.8"/><circle cx="1296.4" cy="148.2" r="6.8"/><circle cx="1301.0" cy="137.8" r="6.8"/><circle cx="1305.5" cy="126.9" r="6.8"/><circle cx="1310.1" cy="123.5" r="6.8"/><circle cx="1314.7" cy="114.4" r="6.8"/><circle cx="1319.3" cy="139.3" r="6.8"/><circle cx="1323.8" cy="130.2" r="6.8"/><circle cx="1328.4" cy="117.3" r="6.8"/><circle cx="1333.0" cy="149.3" r="6.8"/><circle cx="1337.5" cy="149.3" r="6.8"/><circle cx="1342.1" cy="175.9" r="6.8"/><circle cx="1346.7" cy="140.3" r="6.8"/><circle cx="1351.2" cy="194.2" r="6.8"/><circle cx="1355.8" cy="147.5" r="6.8"/><circle cx="1360.4" cy="163.3" r="6.8"/><circle cx="1364.9" cy="151.6" r="6.8"/><circle cx="1369.5" cy="163.2" r="6.8"/><circle cx="1374.1" cy="185.7" r="6.8"/><circle cx="1378.6" cy="155.1" r="6.8"/><circle cx="1383.2" cy="180.4" r="6.8"/><circle cx="1387.8" cy="179.2" r="6.8"/><circle cx="1392.3" cy="165.9" r="6.8"/><circle cx="1396.9" cy="168.8" r="6.8"/><circle cx="1401.5" cy="179.1" r="6.8"/><circle cx="1406.0" cy="210.6" r="6.8"/><circle cx="1410.6" cy="181.0" r="6.8"/><circle cx="1415.2" cy="215.9" r="6.8"/><circle cx="1419.7" cy="202.4" r="6.8"/><circle cx="1424.3" cy="226.8" r="6.8"/><circle cx="1428.9" cy="198.3" r="6.8"/><circle cx="1433.4" cy="191.8" r="6.8"/><circle cx="1438.0" cy="209.4" r="6.8"/><circle cx="1442.6" cy="201.3" r="6.8"/><circle cx="1447.1" cy="228.4" r="6.8"/><circle cx="1451.7" cy="220.0" r="6.8"/><circle cx="1456.3" cy="231.7" r="6.8"/><circle cx="1460.8" cy="238.9" r="6.8"/><circle cx="1465.4" cy="230.2" r="6.8"/><circle cx="1470.0" cy="238.6" r="6.8"/><circle cx="1474.5" cy="238.6" r="6.8"/><circle cx="1479.1" cy="241.0" r="6.8"/><circle cx="1483.7" cy="238.4" r="6.8"/><circle cx="1488.2" cy="238.9" r="6.8"/><circle cx="1492.8" cy="239.5" r="6.8"/><circle cx="1497.4" cy="264.0" r="6.8"/><circle cx="1502.0" cy="249.0" r="6.8"/><circle cx="1506.5" cy="284.5" r="6.8"/><circle cx="1511.1" cy="262.3" r="6.8"/><circle cx="1515.7" cy="265.7" r="6.8"/><circle cx="1520.2" cy="303.4" r="6.8"/><circle cx="1524.8" cy="300.8" r="6.8"/><circle cx="1529.4" cy="235.6" r="6.8"/><circle cx="1533.9" cy="311.6" r="6.8"/><circle cx="1538.5" cy="287.7" r="6.8"/><circle cx="1543.1" cy="290.7" r="6.8"/><circle cx="1547.6" cy="281.2" r="6.8"/><circle cx="1552.2" cy="286.1" r="6.8"/><circle cx="1556.8" cy="279.0" r="6.8"/><circle cx="1561.3" cy="261.7" r="6.8"/><circle cx="1565.9" cy="261.5" r="6.8"/><circle cx="1570.5" cy="293.3" r="6.8"/><circle cx="1575.0" cy="313.8" r="6.8"/><circle cx="1579.6" cy="346.5" r="6.8"/><circle cx="1584.2" cy="317.3" r="6.8"/><circle cx="1588.7" cy="306.9" r="6.8"/><circle cx="1593.3" cy="308.5" r="6.8"/><circle cx="1597.9" cy="307.6" r="6.8"/><circle cx="1602.4" cy="329.8" r="6.8"/><circle cx="1607.0" cy="373.7" r="6.8"/><circle cx="1611.6" cy="349.1" r="6.8"/><circle cx="1616.1" cy="332.3" r="6.8"/><circle cx="1620.7" cy="368.4" r="6.8"/><circle cx="1625.3" cy="340.1" r="6.8"/><circle cx="1629.8" cy="358.3" r="6.8"/><circle cx="1634.4" cy="352.3" r="6.8"/><circle cx="1639.0" cy="350.7" r="6.8"/><circle cx="1643.5" cy="324.9" r="6.8"/><circle cx="1648.1" cy="354.7" r="6.8"/><circle cx="1652.7" cy="360.7" r="6.8"/><circle cx="1657.2" cy="341.4" r="6.8"/><circle cx="1661.8" cy="384.7" r="6.8"/><circle cx="1666.4" cy="390.9" r="6.8"/><circle cx="1670.9" cy="435.5" r="6.8"/><circle cx="1675.5" cy="404.2" r="6.8"/><circle cx="1680.1" cy="417.4" r="6.8"/><circle cx="1684.7" cy="461.1" r="6.8"/><circle cx="1689.2" cy="399.3" r="6.8"/><circle cx="1693.8" cy="411.6" r="6.8"/><circle cx="1698.4" cy="402.5" r="6.8"/><circle cx="1702.9" cy="420.2" r="6.8"/><circle cx="1707.5" cy="408.5" r="6.8"/><circle cx="1712.1" cy="424.4" r="6.8"/><circle cx="1716.6" cy="416.9" r="6.8"/><circle cx="1721.2" cy="358.9" r="6.8"/><circle cx="1725.8" cy="414.0" r="6.8"/><circle cx="1730.3" cy="417.5" r="6.8"/></g>
</g>
<rect x="1072.4" y="282.8" width="245.9" height="260.8" fill="#fff"/>
<clipPath id="ci"><rect x="1072.4" y="282.8" width="245.9" height="260.8"/></clipPath>
<g clip-path="url(#ci)">
<polyline points="1072.7,514.3 1075.4,390.1 1078.2,362.3 1080.9,332.3 1083.6,336.3 1086.4,309.7 1089.1,316.7 1091.8,312.1 1094.5,320.8 1097.3,310.9 1100.0,305.0 1102.7,320.0 1105.5,323.2 1108.2,307.3 1110.9,319.0 1113.7,311.8 1116.4,317.7 1119.1,319.9 1121.8,310.6 1124.6,322.8 1127.3,316.5 1130.0,319.2 1132.8,325.4 1135.5,316.1 1138.2,322.1 1141.0,337.1 1143.7,342.3 1146.4,346.0 1149.1,337.9 1151.9,348.4 1154.6,356.7 1157.3,355.5 1160.1,338.1 1162.8,337.2 1165.5,355.1 1168.3,363.1 1171.0,355.4 1173.7,364.5 1176.4,360.9 1179.2,362.5 1181.9,364.8 1184.6,365.9 1187.4,362.8 1190.1,381.6 1192.8,375.9 1195.6,366.0 1198.3,369.3 1201.0,364.8 1203.7,377.5 1206.5,364.4 1209.2,373.8 1211.9,383.2 1214.7,383.0 1217.4,384.4 1220.1,372.6 1222.9,388.5 1225.6,383.1 1228.3,395.5 1231.0,384.8 1233.8,400.9 1236.5,392.8 1239.2,396.6 1242.0,389.4 1244.7,390.7 1247.4,392.0 1250.2,403.7 1252.9,394.0 1255.6,397.7 1258.3,408.6 1261.1,404.9 1263.8,400.3 1266.5,405.6 1269.3,394.2 1272.0,394.5 1274.7,410.0 1277.5,428.4 1280.2,423.8 1282.9,428.5 1285.6,414.9 1288.4,407.6 1291.1,420.5 1293.8,404.5 1296.6,393.0 1299.3,418.4 1302.0,423.6 1304.8,421.8 1307.5,428.8 1310.2,423.6 1312.9,421.2 1315.7,411.3 1318.4,418.9" fill="none" stroke="#fcad14" stroke-width="1.5"/>
<g fill="#fcad14"><circle cx="1072.7" cy="514.3" r="6.8"/><circle cx="1075.4" cy="390.1" r="6.8"/><circle cx="1078.2" cy="362.3" r="6.8"/><circle cx="1080.9" cy="332.3" r="6.8"/><circle cx="1083.6" cy="336.3" r="6.8"/><circle cx="1086.4" cy="309.7" r="6.8"/><circle cx="1089.1" cy="316.7" r="6.8"/><circle cx="1091.8" cy="312.1" r="6.8"/><circle cx="1094.5" cy="320.8" r="6.8"/><circle cx="1097.3" cy="310.9" r="6.8"/><circle cx="1100.0" cy="305.0" r="6.8"/><circle cx="1102.7" cy="320.0" r="6.8"/><circle cx="1105.5" cy="323.2" r="6.8"/><circle cx="1108.2" cy="307.3" r="6.8"/><circle cx="1110.9" cy="319.0" r="6.8"/><circle cx="1113.7" cy="311.8" r="6.8"/><circle cx="1116.4" cy="317.7" r="6.8"/><circle cx="1119.1" cy="319.9" r="6.8"/><circle cx="1121.8" cy="310.6" r="6.8"/><circle cx="1124.6" cy="322.8" r="6.8"/><circle cx="1127.3" cy="316.5" r="6.8"/><circle cx="1130.0" cy="319.2" r="6.8"/><circle cx="1132.8" cy="325.4" r="6.8"/><circle cx="1135.5" cy="316.1" r="6.8"/><circle cx="1138.2" cy="322.1" r="6.8"/><circle cx="1141.0" cy="337.1" r="6.8"/><circle cx="1143.7" cy="342.3" r="6.8"/><circle cx="1146.4" cy="346.0" r="6.8"/><circle cx="1149.1" cy="337.9" r="6.8"/><circle cx="1151.9" cy="348.4" r="6.8"/><circle cx="1154.6" cy="356.7" r="6.8"/><circle cx="1157.3" cy="355.5" r="6.8"/><circle cx="1160.1" cy="338.1" r="6.8"/><circle cx="1162.8" cy="337.2" r="6.8"/><circle cx="1165.5" cy="355.1" r="6.8"/><circle cx="1168.3" cy="363.1" r="6.8"/><circle cx="1171.0" cy="355.4" r="6.8"/><circle cx="1173.7" cy="364.5" r="6.8"/><circle cx="1176.4" cy="360.9" r="6.8"/><circle cx="1179.2" cy="362.5" r="6.8"/><circle cx="1181.9" cy="364.8" r="6.8"/><circle cx="1184.6" cy="365.9" r="6.8"/><circle cx="1187.4" cy="362.8" r="6.8"/><circle cx="1190.1" cy="381.6" r="6.8"/><circle cx="1192.8" cy="375.9" r="6.8"/><circle cx="1195.6" cy="366.0" r="6.8"/><circle cx="1198.3" cy="369.3" r="6.8"/><circle cx="1201.0" cy="364.8" r="6.8"/><circle cx="1203.7" cy="377.5" r="6.8"/><circle cx="1206.5" cy="364.4" r="6.8"/><circle cx="1209.2" cy="373.8" r="6.8"/><circle cx="1211.9" cy="383.2" r="6.8"/><circle cx="1214.7" cy="383.0" r="6.8"/><circle cx="1217.4" cy="384.4" r="6.8"/><circle cx="1220.1" cy="372.6" r="6.8"/><circle cx="1222.9" cy="388.5" r="6.8"/><circle cx="1225.6" cy="383.1" r="6.8"/><circle cx="1228.3" cy="395.5" r="6.8"/><circle cx="1231.0" cy="384.8" r="6.8"/><circle cx="1233.8" cy="400.9" r="6.8"/><circle cx="1236.5" cy="392.8" r="6.8"/><circle cx="1239.2" cy="396.6" r="6.8"/><circle cx="1242.0" cy="389.4" r="6.8"/><circle cx="1244.7" cy="390.7" r="6.8"/><circle cx="1247.4" cy="392.0" r="6.8"/><circle cx="1250.2" cy="403.7" r="6.8"/><circle cx="1252.9" cy="394.0" r="6.8"/><circle cx="1255.6" cy="397.7" r="6.8"/><circle cx="1258.3" cy="408.6" r="6.8"/><circle cx="1261.1" cy="404.9" r="6.8"/><circle cx="1263.8" cy="400.3" r="6.8"/><circle cx="1266.5" cy="405.6" r="6.8"/><circle cx="1269.3" cy="394.2" r="6.8"/><circle cx="1272.0" cy="394.5" r="6.8"/><circle cx="1274.7" cy="410.0" r="6.8"/><circle cx="1277.5" cy="428.4" r="6.8"/><circle cx="1280.2" cy="423.8" r="6.8"/><circle cx="1282.9" cy="428.5" r="6.8"/><circle cx="1285.6" cy="414.9" r="6.8"/><circle cx="1288.4" cy="407.6" r="6.8"/><circle cx="1291.1" cy="420.5" r="6.8"/><circle cx="1293.8" cy="404.5" r="6.8"/><circle cx="1296.6" cy="393.0" r="6.8"/><circle cx="1299.3" cy="418.4" r="6.8"/><circle cx="1302.0" cy="423.6" r="6.8"/><circle cx="1304.8" cy="421.8" r="6.8"/><circle cx="1307.5" cy="428.8" r="6.8"/><circle cx="1310.2" cy="423.6" r="6.8"/><circle cx="1312.9" cy="421.2" r="6.8"/><circle cx="1315.7" cy="411.3" r="6.8"/><circle cx="1318.4" cy="418.9" r="6.8"/></g>
<polyline points="1072.7,556.3 1075.4,474.0 1078.2,467.0 1080.9,437.6 1083.6,416.7 1086.4,405.0 1089.1,414.5 1091.8,392.6 1094.5,402.2 1097.3,388.6 1100.0,389.2 1102.7,386.2 1105.5,391.7 1108.2,392.0 1110.9,376.5 1113.7,392.5 1116.4,390.1 1119.1,393.4 1121.8,397.9 1124.6,374.7 1127.3,402.3 1130.0,375.5 1132.8,384.1 1135.5,393.6 1138.2,400.9 1141.0,399.2 1143.7,398.8 1146.4,401.9 1149.1,390.4 1151.9,401.0 1154.6,422.4 1157.3,384.2 1160.1,403.9 1162.8,406.8 1165.5,402.3 1168.3,410.1 1171.0,413.8 1173.7,412.8 1176.4,416.0 1179.2,409.7 1181.9,425.0 1184.6,416.9 1187.4,415.0 1190.1,442.5 1192.8,422.6 1195.6,424.8 1198.3,414.8 1201.0,434.9 1203.7,424.8 1206.5,429.1 1209.2,442.1 1211.9,442.0 1214.7,433.3 1217.4,445.1 1220.1,445.6 1222.9,442.6 1225.6,437.6 1228.3,450.6 1231.0,435.9 1233.8,452.9 1236.5,451.3 1239.2,442.8 1242.0,445.8 1244.7,475.8 1247.4,440.7 1250.2,459.1 1252.9,457.2 1255.6,465.0 1258.3,465.3 1261.1,471.4 1263.8,471.2 1266.5,466.6 1269.3,456.8 1272.0,466.9 1274.7,474.5 1277.5,475.5 1280.2,481.5 1282.9,472.0 1285.6,464.9 1288.4,471.0 1291.1,478.6 1293.8,485.3 1296.6,486.6 1299.3,485.7 1302.0,470.3 1304.8,477.8 1307.5,486.4 1310.2,485.5 1312.9,490.6 1315.7,474.7 1318.4,490.4" fill="none" stroke="#bc3754" stroke-width="1.5"/>
<g fill="#bc3754"><circle cx="1072.7" cy="556.3" r="6.8"/><circle cx="1075.4" cy="474.0" r="6.8"/><circle cx="1078.2" cy="467.0" r="6.8"/><circle cx="1080.9" cy="437.6" r="6.8"/><circle cx="1083.6" cy="416.7" r="6.8"/><circle cx="1086.4" cy="405.0" r="6.8"/><circle cx="1089.1" cy="414.5" r="6.8"/><circle cx="1091.8" cy="392.6" r="6.8"/><circle cx="1094.5" cy="402.2" r="6.8"/><circle cx="1097.3" cy="388.6" r="6.8"/><circle cx="1100.0" cy="389.2" r="6.8"/><circle cx="1102.7" cy="386.2" r="6.8"/><circle cx="1105.5" cy="391.7" r="6.8"/><circle cx="1108.2" cy="392.0" r="6.8"/><circle cx="1110.9" cy="376.5" r="6.8"/><circle cx="1113.7" cy="392.5" r="6.8"/><circle cx="1116.4" cy="390.1" r="6.8"/><circle cx="1119.1" cy="393.4" r="6.8"/><circle cx="1121.8" cy="397.9" r="6.8"/><circle cx="1124.6" cy="374.7" r="6.8"/><circle cx="1127.3" cy="402.3" r="6.8"/><circle cx="1130.0" cy="375.5" r="6.8"/><circle cx="1132.8" cy="384.1" r="6.8"/><circle cx="1135.5" cy="393.6" r="6.8"/><circle cx="1138.2" cy="400.9" r="6.8"/><circle cx="1141.0" cy="399.2" r="6.8"/><circle cx="1143.7" cy="398.8" r="6.8"/><circle cx="1146.4" cy="401.9" r="6.8"/><circle cx="1149.1" cy="390.4" r="6.8"/><circle cx="1151.9" cy="401.0" r="6.8"/><circle cx="1154.6" cy="422.4" r="6.8"/><circle cx="1157.3" cy="384.2" r="6.8"/><circle cx="1160.1" cy="403.9" r="6.8"/><circle cx="1162.8" cy="406.8" r="6.8"/><circle cx="1165.5" cy="402.3" r="6.8"/><circle cx="1168.3" cy="410.1" r="6.8"/><circle cx="1171.0" cy="413.8" r="6.8"/><circle cx="1173.7" cy="412.8" r="6.8"/><circle cx="1176.4" cy="416.0" r="6.8"/><circle cx="1179.2" cy="409.7" r="6.8"/><circle cx="1181.9" cy="425.0" r="6.8"/><circle cx="1184.6" cy="416.9" r="6.8"/><circle cx="1187.4" cy="415.0" r="6.8"/><circle cx="1190.1" cy="442.5" r="6.8"/><circle cx="1192.8" cy="422.6" r="6.8"/><circle cx="1195.6" cy="424.8" r="6.8"/><circle cx="1198.3" cy="414.8" r="6.8"/><circle cx="1201.0" cy="434.9" r="6.8"/><circle cx="1203.7" cy="424.8" r="6.8"/><circle cx="1206.5" cy="429.1" r="6.8"/><circle cx="1209.2" cy="442.1" r="6.8"/><circle cx="1211.9" cy="442.0" r="6.8"/><circle cx="1214.7" cy="433.3" r="6.8"/><circle cx="1217.4" cy="445.1" r="6.8"/><circle cx="1220.1" cy="445.6" r="6.8"/><circle cx="1222.9" cy="442.6" r="6.8"/><circle cx="1225.6" cy="437.6" r="6.8"/><circle cx="1228.3" cy="450.6" r="6.8"/><circle cx="1231.0" cy="435.9" r="6.8"/><circle cx="1233.8" cy="452.9" r="6.8"/><circle cx="1236.5" cy="451.3" r="6.8"/><circle cx="1239.2" cy="442.8" r="6.8"/><circle cx="1242.0" cy="445.8" r="6.8"/><circle cx="1244.7" cy="475.8" r="6.8"/><circle cx="1247.4" cy="440.7" r="6.8"/><circle cx="1250.2" cy="459.1" r="6.8"/><circle cx="1252.9" cy="457.2" r="6.8"/><circle cx="1255.6" cy="465.0" r="6.8"/><circle cx="1258.3" cy="465.3" r="6.8"/><circle cx="1261.1" cy="471.4" r="6.8"/><circle cx="1263.8" cy="471.2" r="6.8"/><circle cx="1266.5" cy="466.6" r="6.8"/><circle cx="1269.3" cy="456.8" r="6.8"/><circle cx="1272.0" cy="466.9" r="6.8"/><circle cx="1274.7" cy="474.5" r="6.8"/><circle cx="1277.5" cy="475.5" r="6.8"/><circle cx="1280.2" cy="481.5" r="6.8"/><circle cx="1282.9" cy="472.0" r="6.8"/><circle cx="1285.6" cy="464.9" r="6.8"/><circle cx="1288.4" cy="471.0" r="6.8"/><circle cx="1291.1" cy="478.6" r="6.8"/><circle cx="1293.8" cy="485.3" r="6.8"/><circle cx="1296.6" cy="486.6" r="6.8"/><circle cx="1299.3" cy="485.7" r="6.8"/><circle cx="1302.0" cy="470.3" r="6.8"/><circle cx="1304.8" cy="477.8" r="6.8"/><circle cx="1307.5" cy="486.4" r="6.8"/><circle cx="1310.2" cy="485.5" r="6.8"/><circle cx="1312.9" cy="490.6" r="6.8"/><circle cx="1315.7" cy="474.7" r="6.8"/><circle cx="1318.4" cy="490.4" r="6.8"/></g>
<polyline points="1072.7,560.0 1075.4,552.3 1078.2,542.7 1080.9,553.3 1083.6,543.5 1086.4,515.7 1089.1,517.1 1091.8,501.6 1094.5,494.9 1097.3,527.6 1100.0,497.8 1102.7,506.1 1105.5,498.9 1108.2,492.8 1110.9,476.6 1113.7,474.5 1116.4,490.1 1119.1,496.4 1121.8,458.9 1124.6,468.3 1127.3,476.0 1130.0,489.9 1132.8,482.7 1135.5,485.4 1138.2,478.1 1141.0,463.3 1143.7,472.6 1146.4,489.0 1149.1,476.2 1151.9,459.8 1154.6,491.8 1157.3,480.6 1160.1,484.2 1162.8,500.0 1165.5,470.7 1168.3,470.0 1171.0,449.0 1173.7,481.8 1176.4,488.2 1179.2,481.7 1181.9,483.1 1184.6,495.2 1187.4,490.0 1190.1,490.9 1192.8,486.3 1195.6,487.9 1198.3,502.3 1201.0,490.1 1203.7,487.5 1206.5,487.3 1209.2,493.8 1211.9,498.9 1214.7,504.2 1217.4,500.9 1220.1,496.7 1222.9,482.5 1225.6,510.9 1228.3,492.9 1231.0,504.2 1233.8,521.8 1236.5,511.9 1239.2,500.5 1242.0,520.0 1244.7,509.7 1247.4,508.5 1250.2,530.6 1252.9,525.2 1255.6,556.7 1258.3,506.8 1261.1,521.3 1263.8,527.8 1266.5,539.8 1269.3,522.3 1272.0,545.6 1274.7,529.8 1277.5,520.4 1280.2,528.5 1282.9,531.1 1285.6,531.3 1288.4,527.0 1291.1,532.8 1293.8,548.3 1296.6,548.5 1299.3,561.8 1302.0,530.3 1304.8,528.9 1307.5,568.1 1310.2,548.6 1312.9,550.1 1315.7,536.2 1318.4,552.6" fill="none" stroke="#350a5e" stroke-width="1.5"/>
<g fill="#350a5e"><circle cx="1072.7" cy="560.0" r="6.8"/><circle cx="1075.4" cy="552.3" r="6.8"/><circle cx="1078.2" cy="542.7" r="6.8"/><circle cx="1080.9" cy="553.3" r="6.8"/><circle cx="1083.6" cy="543.5" r="6.8"/><circle cx="1086.4" cy="515.7" r="6.8"/><circle cx="1089.1" cy="517.1" r="6.8"/><circle cx="1091.8" cy="501.6" r="6.8"/><circle cx="1094.5" cy="494.9" r="6.8"/><circle cx="1097.3" cy="527.6" r="6.8"/><circle cx="1100.0" cy="497.8" r="6.8"/><circle cx="1102.7" cy="506.1" r="6.8"/><circle cx="1105.5" cy="498.9" r="6.8"/><circle cx="1108.2" cy="492.8" r="6.8"/><circle cx="1110.9" cy="476.6" r="6.8"/><circle cx="1113.7" cy="474.5" r="6.8"/><circle cx="1116.4" cy="490.1" r="6.8"/><circle cx="1119.1" cy="496.4" r="6.8"/><circle cx="1121.8" cy="458.9" r="6.8"/><circle cx="1124.6" cy="468.3" r="6.8"/><circle cx="1127.3" cy="476.0" r="6.8"/><circle cx="1130.0" cy="489.9" r="6.8"/><circle cx="1132.8" cy="482.7" r="6.8"/><circle cx="1135.5" cy="485.4" r="6.8"/><circle cx="1138.2" cy="478.1" r="6.8"/><circle cx="1141.0" cy="463.3" r="6.8"/><circle cx="1143.7" cy="472.6" r="6.8"/><circle cx="1146.4" cy="489.0" r="6.8"/><circle cx="1149.1" cy="476.2" r="6.8"/><circle cx="1151.9" cy="459.8" r="6.8"/><circle cx="1154.6" cy="491.8" r="6.8"/><circle cx="1157.3" cy="480.6" r="6.8"/><circle cx="1160.1" cy="484.2" r="6.8"/><circle cx="1162.8" cy="500.0" r="6.8"/><circle cx="1165.5" cy="470.7" r="6.8"/><circle cx="1168.3" cy="470.0" r="6.8"/><circle cx="1171.0" cy="449.0" r="6.8"/><circle cx="1173.7" cy="481.8" r="6.8"/><circle cx="1176.4" cy="488.2" r="6.8"/><circle cx="1179.2" cy="481.7" r="6.8"/><circle cx="1181.9" cy="483.1" r="6.8"/><circle cx="1184.6" cy="495.2" r="6.8"/><circle cx="1187.4" cy="490.0" r="6.8"/><circle cx="1190.1" cy="490.9" r="6.8"/><circle cx="1192.8" cy="486.3" r="6.8"/><circle cx="1195.6" cy="487.9" r="6.8"/><circle cx="1198.3" cy="502.3" r="6.8"/><circle cx="1201.0" cy="490.1" r="6.8"/><circle cx="1203.7" cy="487.5" r="6.8"/><circle cx="1206.5" cy="487.3" r="6.8"/><circle cx="1209.2" cy="493.8" r="6.8"/><circle cx="1211.9" cy="498.9" r="6.8"/><circle cx="1214.7" cy="504.2" r="6.8"/><circle cx="1217.4" cy="500.9" r="6.8"/><circle cx="1220.1" cy="496.7" r="6.8"/><circle cx="1222.9" cy="482.5" r="6.8"/><circle cx="1225.6" cy="510.9" r="6.8"/><circle cx="1228.3" cy="492.9" r="6.8"/><circle cx="1231.0" cy="504.2" r="6.8"/><circle cx="1233.8" cy="521.8" r="6.8"/><circle cx="1236.5" cy="511.9" r="6.8"/><circle cx="1239.2" cy="500.5" r="6.8"/><circle cx="1242.0" cy="520.0" r="6.8"/><circle cx="1244.7" cy="509.7" r="6.8"/><circle cx="1247.4" cy="508.5" r="6.8"/><circle cx="1250.2" cy="530.6" r="6.8"/><circle cx="1252.9" cy="525.2" r="6.8"/><circle cx="1255.6" cy="556.7" r="6.8"/><circle cx="1258.3" cy="506.8" r="6.8"/><circle cx="1261.1" cy="521.3" r="6.8"/><circle cx="1263.8" cy="527.8" r="6.8"/><circle cx="1266.5" cy="539.8" r="6.8"/><circle cx="1269.3" cy="522.3" r="6.8"/><circle cx="1272.0" cy="545.6" r="6.8"/><circle cx="1274.7" cy="529.8" r="6.8"/><circle cx="1277.5" cy="520.4" r="6.8"/><circle cx="1280.2" cy="528.5" r="6.8"/><circle cx="1282.9" cy="531.1" r="6.8"/><circle cx="1285.6" cy="531.3" r="6.8"/><circle cx="1288.4" cy="527.0" r="6.8"/><circle cx="1291.1" cy="532.8" r="6.8"/><circle cx="1293.8" cy="548.3" r="6.8"/><circle cx="1296.6" cy="548.5" r="6.8"/><circle cx="1299.3" cy="561.8" r="6.8"/><circle cx="1302.0" cy="530.3" r="6.8"/><circle cx="1304.8" cy="528.9" r="6.8"/><circle cx="1307.5" cy="568.1" r="6.8"/><circle cx="1310.2" cy="548.6" r="6.8"/><circle cx="1312.9" cy="550.1" r="6.8"/><circle cx="1315.7" cy="536.2" r="6.8"/><circle cx="1318.4" cy="552.6" r="6.8"/></g>
<polyline points="1072.2,560.0 1072.2,555.5 1072.3,549.7 1072.4,542.9 1072.5,535.2 1072.5,526.9 1072.6,518.1 1072.7,509.2 1072.8,500.4 1072.9,491.8 1073.0,483.7 1073.1,476.4 1073.2,470.0 1073.3,464.4 1073.4,459.3 1073.5,454.6 1073.6,450.2 1073.7,446.1 1073.8,442.2 1073.9,438.5 1074.0,434.8 1074.1,431.2 1074.2,427.6 1074.3,423.9 1074.4,420.0 1074.5,416.0 1074.6,412.0 1074.8,407.9 1074.9,403.8 1075.0,399.8 1075.1,395.9 1075.2,392.0 1075.4,388.2 1075.5,384.6 1075.7,381.2 1075.8,378.0 1076.0,375.0 1076.2,372.3 1076.3,369.9 1076.5,367.7 1076.6,365.6 1076.8,363.8 1076.9,362.0 1077.1,360.3 1077.3,358.6 1077.6,357.0 1077.8,355.2 1078.1,353.3 1078.5,351.3 1078.9,349.1 1079.4,346.8 1079.9,344.4 1080.4,342.0 1081.0,339.5 1081.6,337.0 1082.2,334.6 1082.8,332.3 1083.4,330.1 1084.0,328.0 1084.6,326.1 1085.2,324.4 1085.8,322.9 1086.3,321.6 1086.8,320.4 1087.4,319.4 1087.9,318.4 1088.4,317.6 1089.0,316.8 1089.5,316.1 1090.1,315.5 1090.7,314.9 1091.3,314.2 1092.0,313.6 1092.7,313.0 1093.3,312.3 1094.0,311.7 1094.6,311.1 1095.3,310.6 1096.0,310.1 1096.7,309.7 1097.5,309.3 1098.3,309.1 1099.2,308.9 1100.2,308.9 1101.3,309.0 1102.4,309.2 1103.6,309.5 1104.9,309.9 1106.2,310.4 1107.5,311.0 1108.9,311.7 1110.4,312.5 1112.0,313.4 1113.6,314.3 1115.2,315.4 1117.0,316.5 1118.8,317.7 1120.7,319.1 1122.8,320.6 1124.9,322.3 1127.1,324.1 1129.4,326.0 1131.7,327.9 1134.1,329.9 1136.5,331.9 1138.8,333.8 1141.2,335.7 1143.5,337.5 1145.8,339.2 1148.1,340.8 1150.4,342.4 1152.8,344.0 1155.1,345.6 1157.5,347.1 1159.9,348.6 1162.2,350.1 1164.4,351.5 1166.7,352.9 1168.8,354.2 1170.8,355.5 1172.7,356.7 1174.4,357.8 1176.0,358.9 1177.5,359.9 1178.8,360.8 1180.1,361.7 1181.4,362.5 1182.6,363.4 1183.9,364.2 1185.2,365.0 1186.7,365.9 1188.3,366.8 1190.0,367.7 1191.9,368.7 1193.9,369.6 1196.0,370.6 1198.3,371.6 1200.5,372.6 1202.9,373.6 1205.2,374.6 1207.6,375.6 1210.0,376.7 1212.3,377.7 1214.6,378.7 1216.9,379.8 1219.1,380.9 1221.4,382.0 1223.6,383.1 1225.9,384.2 1228.1,385.4 1230.3,386.6 1232.6,387.7 1234.8,388.9 1237.1,390.0 1239.3,391.1 1241.6,392.2 1243.8,393.3 1246.0,394.4 1248.3,395.4 1250.5,396.5 1252.8,397.5 1255.0,398.6 1257.3,399.6 1259.6,400.6 1261.8,401.6 1264.1,402.6 1266.3,403.6 1268.6,404.5 1270.8,405.4 1273.1,406.3 1275.3,407.2 1277.6,408.0 1279.9,408.9 1282.1,409.7 1284.4,410.5 1286.7,411.3 1288.9,412.0 1291.2,412.8 1293.4,413.5 1295.5,414.1 1297.7,414.8 1299.9,415.4 1302.2,416.1 1304.5,416.7 1306.9,417.3 1309.2,417.8 1311.5,418.4 1313.7,418.9 1315.8,419.4 1317.7,419.8 1319.4,420.2 1320.8,420.5 1322.0,420.8" fill="none" stroke="#f2e466" stroke-width="5" stroke-opacity="0.92" stroke-linejoin="round"/>
<polyline points="1072.6,560.0 1072.7,556.5 1072.8,552.0 1073.0,546.6 1073.2,540.6 1073.4,534.0 1073.6,527.2 1073.8,520.2 1074.0,513.3 1074.3,506.7 1074.5,500.5 1074.8,494.8 1075.0,490.0 1075.3,485.8 1075.5,482.0 1075.8,478.4 1076.1,475.2 1076.4,472.2 1076.7,469.4 1077.0,466.7 1077.3,464.3 1077.6,461.9 1077.9,459.6 1078.2,457.3 1078.5,455.0 1078.8,452.8 1079.0,450.8 1079.3,448.9 1079.6,447.1 1079.9,445.5 1080.1,443.9 1080.4,442.4 1080.6,440.9 1080.9,439.4 1081.1,438.0 1081.4,436.5 1081.6,435.0 1081.8,433.5 1082.0,432.0 1082.1,430.5 1082.2,429.1 1082.4,427.7 1082.5,426.3 1082.6,424.9 1082.8,423.6 1083.0,422.2 1083.3,420.8 1083.6,419.4 1084.0,418.0 1084.5,416.6 1085.0,415.1 1085.6,413.6 1086.3,412.1 1086.9,410.7 1087.7,409.2 1088.4,407.7 1089.1,406.3 1089.9,404.9 1090.6,403.5 1091.3,402.2 1092.0,401.0 1092.6,399.8 1093.3,398.6 1093.8,397.5 1094.4,396.4 1095.0,395.3 1095.6,394.3 1096.2,393.3 1096.8,392.3 1097.5,391.4 1098.3,390.6 1099.1,389.8 1100.0,389.0 1101.0,388.3 1102.0,387.6 1103.2,386.9 1104.3,386.3 1105.5,385.7 1106.8,385.2 1108.1,384.8 1109.4,384.4 1110.8,384.0 1112.1,383.8 1113.5,383.7 1114.8,383.6 1116.1,383.6 1117.5,383.8 1118.8,383.9 1120.1,384.2 1121.4,384.5 1122.8,385.0 1124.2,385.4 1125.7,386.0 1127.2,386.6 1128.8,387.4 1130.5,388.1 1132.3,389.0 1134.2,390.0 1136.2,391.0 1138.3,392.2 1140.4,393.4 1142.6,394.8 1144.9,396.2 1147.2,397.6 1149.6,399.1 1152.0,400.6 1154.4,402.1 1156.8,403.7 1159.2,405.2 1161.6,406.8 1164.2,408.4 1166.7,410.1 1169.3,411.9 1172.0,413.7 1174.6,415.5 1177.2,417.3 1179.9,419.1 1182.5,420.8 1185.0,422.5 1187.6,424.1 1190.0,425.6 1192.4,427.0 1194.7,428.4 1197.0,429.7 1199.3,430.9 1201.5,432.2 1203.7,433.4 1205.9,434.5 1208.1,435.7 1210.3,436.8 1212.5,438.0 1214.7,439.2 1216.9,440.4 1219.1,441.6 1221.4,442.9 1223.6,444.1 1225.9,445.4 1228.1,446.6 1230.3,447.9 1232.6,449.1 1234.8,450.4 1237.1,451.6 1239.3,452.8 1241.6,454.0 1243.8,455.2 1246.0,456.4 1248.3,457.5 1250.5,458.7 1252.8,459.9 1255.0,461.0 1257.3,462.2 1259.6,463.3 1261.8,464.4 1264.1,465.5 1266.3,466.6 1268.6,467.6 1270.8,468.6 1273.1,469.6 1275.3,470.5 1277.6,471.5 1279.9,472.4 1282.1,473.3 1284.4,474.2 1286.7,475.0 1288.9,475.9 1291.2,476.7 1293.4,477.5 1295.5,478.2 1297.7,479.0 1299.9,479.8 1302.2,480.5 1304.5,481.3 1306.9,482.0 1309.2,482.7 1311.5,483.4 1313.7,484.1 1315.8,484.7 1317.7,485.2 1319.4,485.7 1320.8,486.1 1322.0,486.5" fill="none" stroke="#f2e466" stroke-width="5" stroke-opacity="0.92" stroke-linejoin="round"/>
<polyline points="1079.0,552.0 1079.0,551.6 1079.1,551.2 1079.1,550.7 1079.1,550.2 1079.1,549.6 1079.1,548.9 1079.2,548.2 1079.3,547.3 1079.5,546.4 1079.8,545.3 1080.1,544.0 1080.6,542.6 1081.2,541.0 1081.8,539.1 1082.6,537.0 1083.5,534.7 1084.4,532.3 1085.3,529.9 1086.3,527.4 1087.3,524.9 1088.3,522.5 1089.3,520.3 1090.3,518.1 1091.2,516.2 1092.1,514.4 1093.0,512.8 1093.8,511.2 1094.7,509.6 1095.6,508.2 1096.5,506.8 1097.3,505.4 1098.2,504.1 1099.1,502.9 1099.9,501.6 1100.8,500.4 1101.7,499.2 1102.6,498.0 1103.5,496.9 1104.3,495.8 1105.2,494.8 1106.1,493.8 1107.0,492.8 1107.9,491.9 1108.8,491.0 1109.6,490.1 1110.5,489.2 1111.4,488.4 1112.3,487.6 1113.2,486.8 1114.1,486.1 1115.0,485.4 1115.8,484.7 1116.7,484.1 1117.6,483.4 1118.5,482.8 1119.4,482.3 1120.3,481.7 1121.1,481.2 1122.0,480.7 1122.9,480.2 1123.8,479.7 1124.6,479.3 1125.5,478.9 1126.4,478.5 1127.2,478.1 1128.1,477.8 1128.9,477.4 1129.8,477.1 1130.7,476.8 1131.6,476.5 1132.5,476.3 1133.5,476.0 1134.5,475.7 1135.5,475.5 1136.5,475.2 1137.5,475.0 1138.6,474.7 1139.7,474.5 1140.7,474.3 1141.8,474.2 1142.9,474.0 1144.0,473.9 1145.1,473.8 1146.2,473.8 1147.3,473.8 1148.4,473.8 1149.5,473.8 1150.6,473.9 1151.7,474.0 1152.9,474.1 1154.0,474.3 1155.1,474.5 1156.3,474.7 1157.5,474.9 1158.7,475.1 1159.9,475.4 1161.1,475.7 1162.4,476.1 1163.7,476.5 1165.0,476.9 1166.4,477.3 1167.7,477.8 1169.1,478.3 1170.4,478.8 1171.8,479.3 1173.1,479.7 1174.5,480.2 1175.8,480.7 1177.1,481.2 1178.4,481.6 1179.8,482.1 1181.1,482.5 1182.4,483.0 1183.7,483.4 1185.0,483.9 1186.3,484.4 1187.6,484.9 1189.0,485.4 1190.3,485.9 1191.6,486.5 1192.9,487.1 1194.1,487.6 1195.2,488.2 1196.4,488.7 1197.5,489.3 1198.7,489.9 1199.9,490.5 1201.2,491.2 1202.6,491.9 1204.1,492.7 1205.7,493.6 1207.6,494.5 1209.6,495.5 1211.9,496.6 1214.3,497.8 1216.8,499.1 1219.4,500.4 1222.1,501.7 1224.8,503.0 1227.6,504.4 1230.4,505.8 1233.1,507.2 1235.8,508.5 1238.4,509.8 1240.9,511.1 1243.4,512.3 1245.9,513.6 1248.3,514.8 1250.7,516.1 1253.2,517.3 1255.7,518.6 1258.2,519.9 1260.8,521.2 1263.4,522.5 1266.2,523.8 1269.1,525.2 1272.2,526.6 1275.5,528.2 1279.1,529.8 1282.7,531.4 1286.5,533.0 1290.2,534.7 1293.9,536.3 1297.4,537.9 1300.8,539.3 1303.9,540.7 1306.7,541.9 1309.1,543.0 1311.2,543.9 1313.0,544.8 1314.5,545.5 1315.9,546.1 1317.0,546.6 1318.0,547.1 1318.9,547.5 1319.7,547.9 1320.3,548.2 1320.9,548.5 1321.5,548.7 1322.0,549.0" fill="none" stroke="#f2e466" stroke-width="5" stroke-opacity="0.92" stroke-linejoin="round"/>
</g>
<rect x="1072.4" y="282.8" width="245.9" height="260.8" fill="none" stroke="#000" stroke-width="2.3"/>
<line x1="1078.60" y1="282.80" x2="1078.60" y2="293.80" stroke="#000" stroke-width="2.4"/>
<line x1="1078.60" y1="543.60" x2="1078.60" y2="532.60" stroke="#000" stroke-width="2.4"/>
<text x="1078.6" y="575.5" font-family="'Liberation Sans', Arial, Helvetica, sans-serif" font-size="24.5" text-anchor="middle" font-weight="normal" font-style="normal" fill="#000" >0</text>
<line x1="1187.80" y1="282.80" x2="1187.80" y2="293.80" stroke="#000" stroke-width="2.4"/>
<line x1="1187.80" y1="543.60" x2="1187.80" y2="532.60" stroke="#000" stroke-width="2.4"/>
<text x="1187.8" y="575.5" font-family="'Liberation Sans', Arial, Helvetica, sans-serif" font-size="24.5" text-anchor="middle" font-weight="normal" font-style="normal" fill="#000" >5</text>
<line x1="1297.00" y1="282.80" x2="1297.00" y2="293.80" stroke="#000" stroke-width="2.4"/>
<line x1="1297.00" y1="543.60" x2="1297.00" y2="532.60" stroke="#000" stroke-width="2.4"/>
<text x="1297.0" y="575.5" font-family="'Liberation Sans', Arial, Helvetica, sans-serif" font-size="24.5" text-anchor="middle" font-weight="normal" font-style="normal" fill="#000" >10</text>
<line x1="1072.40" y1="299.20" x2="1083.40" y2="299.20" stroke="#000" stroke-width="2.4"/>
<line x1="1318.30" y1="299.20" x2="1307.30" y2="299.20" stroke="#000" stroke-width="2.4"/>
<line x1="1072.40" y1="380.70" x2="1083.40" y2="380.70" stroke="#000" stroke-width="2.4"/>
<line x1="1318.30" y1="380.70" x2="1307.30" y2="380.70" stroke="#000" stroke-width="2.4"/>
<line x1="1072.40" y1="462.20" x2="1083.40" y2="462.20" stroke="#000" stroke-width="2.4"/>
<line x1="1318.30" y1="462.20" x2="1307.30" y2="462.20" stroke="#000" stroke-width="2.4"/>
<rect x="1013.5" y="20.6" width="711.50" height="574.20" fill="none" stroke="#000" stroke-width="2.5"/>
<line x1="1031.50" y1="20.60" x2="1031.50" y2="32.60" stroke="#000" stroke-width="2.4"/>
<line x1="1031.50" y1="594.80" x2="1031.50" y2="582.80" stroke="#000" stroke-width="2.4"/>
<text x="1031.5" y="625.5" font-family="'Liberation Sans', Arial, Helvetica, sans-serif" font-size="24.5" text-anchor="middle" font-weight="normal" font-style="normal" fill="#000" >0.0</text>
<line x1="1122.85" y1="20.60" x2="1122.85" y2="32.60" stroke="#000" stroke-width="2.4"/>
<line x1="1122.85" y1="594.80" x2="1122.85" y2="582.80" stroke="#000" stroke-width="2.4"/>
<text x="1122.8" y="625.5" font-family="'Liberation Sans', Arial, Helvetica, sans-serif" font-size="24.5" text-anchor="middle" font-weight="normal" font-style="normal" fill="#000" >2.5</text>
<line x1="1214.20" y1="20.60" x2="1214.20" y2="32.60" stroke="#000" stroke-width="2.4"/>
<line x1="1214.20" y1="594.80" x2="1214.20" y2="582.80" stroke="#000" stroke-width="2.4"/>
<text x="1214.2" y="625.5" font-family="'Liberation Sans', Arial, Helvetica, sans-serif" font-size="24.5" text-anchor="middle" font-weight="normal" font-style="normal" fill="#000" >5.0</text>
<line x1="1305.55" y1="20.60" x2="1305.55" y2="32.60" stroke="#000" stroke-width="2.4"/>
<line x1="1305.55" y1="594.80" x2="1305.55" y2="582.80" stroke="#000" stroke-width="2.4"/>
<text x="1305.5" y="625.5" font-family="'Liberation Sans', Arial, Helvetica, sans-serif" font-size="24.5" text-anchor="middle" font-weight="normal" font-style="normal" fill="#000" >7.5</text>
<line x1="1396.90" y1="20.60" x2="1396.90" y2="32.60" stroke="#000" stroke-width="2.4"/>
<line x1="1396.90" y1="594.80" x2="1396.90" y2="582.80" stroke="#000" stroke-width="2.4"/>
<text x="1396.9" y="625.5" font-family="'Liberation Sans', Arial, Helvetica, sans-serif" font-size="24.5" text-anchor="middle" font-weight="normal" font-style="normal" fill="#000" >10.0</text>
<line x1="1488.25" y1="20.60" x2="1488.25" y2="32.60" stroke="#000" stroke-width="2.4"/>
<line x1="1488.25" y1="594.80" x2="1488.25" y2="582.80" stroke="#000" stroke-width="2.4"/>
<text x="1488.2" y="625.5" font-family="'Liberation Sans', Arial, Helvetica, sans-serif" font-size="24.5" text-anchor="middle" font-weight="normal" font-style="normal" fill="#000" >12.5</text>
<line x1="1579.60" y1="20.60" x2="1579.60" y2="32.60" stroke="#000" stroke-width="2.4"/>
<line x1="1579.60" y1="594.80" x2="1579.60" y2="582.80" stroke="#000" stroke-width="2.4"/>
<text x="1579.6" y="625.5" font-family="'Liberation Sans', Arial, Helvetica, sans-serif" font-size="24.5" text-anchor="middle" font-weight="normal" font-style="normal" fill="#000" >15.0</text>
<line x1="1670.95" y1="20.60" x2="1670.95" y2="32.60" stroke="#000" stroke-width="2.4"/>
<line x1="1670.95" y1="594.80" x2="1670.95" y2="582.80" stroke="#000" stroke-width="2.4"/>
<text x="1670.9" y="625.5" font-family="'Liberation Sans', Arial, Helvetica, sans-serif" font-size="24.5" text-anchor="middle" font-weight="normal" font-style="normal" fill="#000" >17.5</text>
<line x1="1013.50" y1="57.30" x2="1025.50" y2="57.30" stroke="#000" stroke-width="2.4"/>
<line x1="1725.00" y1="57.30" x2="1713.00" y2="57.30" stroke="#000" stroke-width="2.4"/>
<line x1="1013.50" y1="522.80" x2="1025.50" y2="522.80" stroke="#000" stroke-width="2.4"/>
<line x1="1725.00" y1="522.80" x2="1713.00" y2="522.80" stroke="#000" stroke-width="2.4"/>
<line x1="1013.50" y1="594.91" x2="1020.50" y2="594.91" stroke="#000" stroke-width="2.4"/>
<line x1="1725.00" y1="594.91" x2="1718.00" y2="594.91" stroke="#000" stroke-width="2.4"/>
<line x1="1013.50" y1="567.91" x2="1020.50" y2="567.91" stroke="#000" stroke-width="2.4"/>
<line x1="1725.00" y1="567.91" x2="1718.00" y2="567.91" stroke="#000" stroke-width="2.4"/>
<line x1="1013.50" y1="544.10" x2="1020.50" y2="544.10" stroke="#000" stroke-width="2.4"/>
<line x1="1725.00" y1="544.10" x2="1718.00" y2="544.10" stroke="#000" stroke-width="2.4"/>
<line x1="1013.50" y1="382.67" x2="1020.50" y2="382.67" stroke="#000" stroke-width="2.4"/>
<line x1="1725.00" y1="382.67" x2="1718.00" y2="382.67" stroke="#000" stroke-width="2.4"/>
<line x1="1013.50" y1="300.70" x2="1020.50" y2="300.70" stroke="#000" stroke-width="2.4"/>
<line x1="1725.00" y1="300.70" x2="1718.00" y2="300.70" stroke="#000" stroke-width="2.4"/>
<line x1="1013.50" y1="242.54" x2="1020.50" y2="242.54" stroke="#000" stroke-width="2.4"/>
<line x1="1725.00" y1="242.54" x2="1718.00" y2="242.54" stroke="#000" stroke-width="2.4"/>
<line x1="1013.50" y1="197.43" x2="1020.50" y2="197.43" stroke="#000" stroke-width="2.4"/>
<line x1="1725.00" y1="197.43" x2="1718.00" y2="197.43" stroke="#000" stroke-width="2.4"/>
<line x1="1013.50" y1="160.57" x2="1020.50" y2="160.57" stroke="#000" stroke-width="2.4"/>
<line x1="1725.00" y1="160.57" x2="1718.00" y2="160.57" stroke="#000" stroke-width="2.4"/>
<line x1="1013.50" y1="129.41" x2="1020.50" y2="129.41" stroke="#000" stroke-width="2.4"/>
<line x1="1725.00" y1="129.41" x2="1718.00" y2="129.41" stroke="#000" stroke-width="2.4"/>
<line x1="1013.50" y1="102.41" x2="1020.50" y2="102.41" stroke="#000" stroke-width="2.4"/>
<line x1="1725.00" y1="102.41" x2="1718.00" y2="102.41" stroke="#000" stroke-width="2.4"/>
<line x1="1013.50" y1="78.60" x2="1020.50" y2="78.60" stroke="#000" stroke-width="2.4"/>
<line x1="1725.00" y1="78.60" x2="1718.00" y2="78.60" stroke="#000" stroke-width="2.4"/>
<text x="989.5" y="67.5" font-family="'Liberation Sans', Arial, Helvetica, sans-serif" font-size="24.5" text-anchor="end" font-weight="normal" font-style="normal" fill="#000" >10</text>
<text x="989.0" y="58.8" font-family="'Liberation Sans', Arial, Helvetica, sans-serif" font-size="17.5" text-anchor="start" font-weight="normal" font-style="normal" fill="#000" >0</text>
<text x="979.5" y="533.7" font-family="'Liberation Sans', Arial, Helvetica, sans-serif" font-size="24.5" text-anchor="end" font-weight="normal" font-style="normal" fill="#000" >10</text>
<text x="979.2" y="524.0" font-family="'Liberation Sans', Arial, Helvetica, sans-serif" font-size="17.5" text-anchor="start" font-weight="normal" font-style="normal" fill="#000" >&#8722;1</text>
<text x="1369.2" y="663.1" font-family="'Liberation Sans', Arial, Helvetica, sans-serif" font-size="24.5" text-anchor="middle" font-weight="normal" font-style="normal" fill="#000" >Time (ns)</text>
<text transform="translate(931.6,307.6) rotate(-90)" font-family="'Liberation Sans', Arial, Helvetica, sans-serif" font-size="24.8" text-anchor="middle">Normalized Intensity</text>
<line x1="1497" y1="56.3" x2="1555" y2="56.3" stroke="#000" stroke-width="1.8" stroke-dasharray="1.8,2.9"/>
<text x="1576.0" y="66.4" font-family="'DejaVu Sans', sans-serif" font-size="28" text-anchor="start" font-weight="normal" font-style="normal" fill="#000" >IRF</text>
<line x1="1497" y1="96.7" x2="1555" y2="96.7" stroke="#fcad14" stroke-width="1.6"/>
<circle cx="1526.1" cy="96.7" r="7" fill="#fcad14"/>
<text x="1576.0" y="106.4" font-family="'DejaVu Sans', sans-serif" font-size="28" text-anchor="start" font-weight="normal" font-style="normal" fill="#000" >1000 nW</text>
<line x1="1497" y1="137" x2="1555" y2="137" stroke="#bc3754" stroke-width="1.6"/>
<circle cx="1526.1" cy="137" r="7" fill="#bc3754"/>
<text x="1576.0" y="146.7" font-family="'DejaVu Sans', sans-serif" font-size="28" text-anchor="start" font-weight="normal" font-style="normal" fill="#000" >100 nW</text>
<line x1="1497" y1="177.1" x2="1555" y2="177.1" stroke="#350a5e" stroke-width="1.6"/>
<circle cx="1526.1" cy="177.1" r="7" fill="#350a5e"/>
<text x="1576.0" y="186.8" font-family="'DejaVu Sans', sans-serif" font-size="28" text-anchor="start" font-weight="normal" font-style="normal" fill="#000" >1 nW</text>
<text x="603.0" y="715.5" font-family="'Liberation Sans', Arial, Helvetica, sans-serif" font-size="35" text-anchor="start" font-weight="bold" font-style="normal" fill="#231f20" >e</text>
<rect x="682.4" y="731.2" width="457.10" height="224.60" fill="none" stroke="#000" stroke-width="2.5"/>
<line x1="703.20" y1="731.20" x2="703.20" y2="743.20" stroke="#000" stroke-width="2.4"/>
<line x1="703.20" y1="955.80" x2="703.20" y2="943.80" stroke="#000" stroke-width="2.4"/>
<text x="703.2" y="986.5" font-family="'Liberation Sans', Arial, Helvetica, sans-serif" font-size="24.5" text-anchor="middle" font-weight="normal" font-style="normal" fill="#000" >0</text>
<line x1="841.58" y1="731.20" x2="841.58" y2="743.20" stroke="#000" stroke-width="2.4"/>
<line x1="841.58" y1="955.80" x2="841.58" y2="943.80" stroke="#000" stroke-width="2.4"/>
<text x="841.6" y="986.5" font-family="'Liberation Sans', Arial, Helvetica, sans-serif" font-size="24.5" text-anchor="middle" font-weight="normal" font-style="normal" fill="#000" >1000</text>
<line x1="979.96" y1="731.20" x2="979.96" y2="743.20" stroke="#000" stroke-width="2.4"/>
<line x1="979.96" y1="955.80" x2="979.96" y2="943.80" stroke="#000" stroke-width="2.4"/>
<text x="980.0" y="986.5" font-family="'Liberation Sans', Arial, Helvetica, sans-serif" font-size="24.5" text-anchor="middle" font-weight="normal" font-style="normal" fill="#000" >2000</text>
<line x1="1118.34" y1="731.20" x2="1118.34" y2="743.20" stroke="#000" stroke-width="2.4"/>
<line x1="1118.34" y1="955.80" x2="1118.34" y2="943.80" stroke="#000" stroke-width="2.4"/>
<text x="1118.3" y="986.5" font-family="'Liberation Sans', Arial, Helvetica, sans-serif" font-size="24.5" text-anchor="middle" font-weight="normal" font-style="normal" fill="#000" >3000</text>
<line x1="682.40" y1="911.10" x2="694.40" y2="911.10" stroke="#000" stroke-width="2.4"/>
<line x1="1139.50" y1="911.10" x2="1127.50" y2="911.10" stroke="#000" stroke-width="2.4"/>
<text x="671.4" y="920.5" font-family="'Liberation Sans', Arial, Helvetica, sans-serif" font-size="24.5" text-anchor="end" font-weight="normal" font-style="normal" fill="#000" >7.5</text>
<line x1="682.40" y1="841.40" x2="694.40" y2="841.40" stroke="#000" stroke-width="2.4"/>
<line x1="1139.50" y1="841.40" x2="1127.50" y2="841.40" stroke="#000" stroke-width="2.4"/>
<text x="671.4" y="850.8" font-family="'Liberation Sans', Arial, Helvetica, sans-serif" font-size="24.5" text-anchor="end" font-weight="normal" font-style="normal" fill="#000" >8.0</text>
<line x1="682.40" y1="771.70" x2="694.40" y2="771.70" stroke="#000" stroke-width="2.4"/>
<line x1="1139.50" y1="771.70" x2="1127.50" y2="771.70" stroke="#000" stroke-width="2.4"/>
<text x="671.4" y="781.1" font-family="'Liberation Sans', Arial, Helvetica, sans-serif" font-size="24.5" text-anchor="end" font-weight="normal" font-style="normal" fill="#000" >8.5</text>
<line x1="703.3" y1="742.4" x2="703.3" y2="785.6" stroke="#e8602c" stroke-width="3.5"/>
<line x1="689.3" y1="742.4" x2="717.3" y2="742.4" stroke="#e8602c" stroke-width="3.5"/>
<line x1="689.3" y1="785.6" x2="717.3" y2="785.6" stroke="#e8602c" stroke-width="3.5"/>
<circle cx="703.3" cy="764.0" r="12.8" fill="#e8602c"/>
<line x1="730.2" y1="784.2" x2="730.2" y2="809.3" stroke="#e8602c" stroke-width="3.5"/>
<line x1="716.2" y1="784.2" x2="744.2" y2="784.2" stroke="#e8602c" stroke-width="3.5"/>
<line x1="716.2" y1="809.3" x2="744.2" y2="809.3" stroke="#e8602c" stroke-width="3.5"/>
<circle cx="730.2" cy="796.8" r="12.8" fill="#e8602c"/>
<line x1="841.6" y1="927.4" x2="841.6" y2="945.5" stroke="#e8602c" stroke-width="3.5"/>
<line x1="827.6" y1="927.4" x2="855.6" y2="927.4" stroke="#e8602c" stroke-width="3.5"/>
<line x1="827.6" y1="945.5" x2="855.6" y2="945.5" stroke="#e8602c" stroke-width="3.5"/>
<circle cx="841.6" cy="936.5" r="12.8" fill="#e8602c"/>
<line x1="1118.3" y1="915.4" x2="1118.3" y2="933.5" stroke="#e8602c" stroke-width="3.5"/>
<line x1="1104.3" y1="915.4" x2="1132.3" y2="915.4" stroke="#e8602c" stroke-width="3.5"/>
<line x1="1104.3" y1="933.5" x2="1132.3" y2="933.5" stroke="#e8602c" stroke-width="3.5"/>
<circle cx="1118.3" cy="924.5" r="12.8" fill="#e8602c"/>
<text x="911.0" y="1023.5" font-family="'Liberation Sans', Arial, Helvetica, sans-serif" font-size="24.5" text-anchor="middle" font-weight="normal" font-style="normal" fill="#000" >Power (nW)</text>
<text transform="translate(617,843.5) rotate(-90)" font-family="'Liberation Sans', Arial, Helvetica, sans-serif" font-size="24.5" text-anchor="middle">Time (ns)</text>
<rect x="967.5" y="743.5" width="160" height="49" rx="5" fill="#fff" stroke="#d4d4d4" stroke-width="3"/>
<line x1="1001.8" y1="750.5" x2="1001.8" y2="775" stroke="#e8602c" stroke-width="3.5"/>
<line x1="987.8" y1="750.5" x2="1015.8" y2="750.5" stroke="#e8602c" stroke-width="3.5"/>
<line x1="987.8" y1="775" x2="1015.8" y2="775" stroke="#e8602c" stroke-width="3.5"/>
<circle cx="1001.8" cy="762.4" r="12.8" fill="#e8602c"/>
<text x="1046.2" y="771.7" font-family="'DejaVu Sans', sans-serif" font-size="25" text-anchor="start" font-weight="normal" font-style="italic" fill="#000" >&#964;<tspan font-size="17.5" dy="2.8">decay</tspan></text>
<text x="1194.0" y="716.0" font-family="'Liberation Sans', Arial, Helvetica, sans-serif" font-size="35" text-anchor="start" font-weight="bold" font-style="normal" fill="#231f20" >f</text>
<line x1="1262.1" y1="945.5" x2="1719.0" y2="945.5" stroke="#858585" stroke-width="2.1" stroke-dasharray="6.4,3.05" stroke-dashoffset="1.4"/>
<rect x="1262.1" y="731.2" width="456.90" height="224.70" fill="none" stroke="#000" stroke-width="2.5"/>
<line x1="1282.90" y1="731.20" x2="1282.90" y2="743.20" stroke="#000" stroke-width="2.4"/>
<line x1="1282.90" y1="955.90" x2="1282.90" y2="943.90" stroke="#000" stroke-width="2.4"/>
<text x="1282.9" y="986.5" font-family="'Liberation Sans', Arial, Helvetica, sans-serif" font-size="24.5" text-anchor="middle" font-weight="normal" font-style="normal" fill="#000" >0</text>
<line x1="1421.28" y1="731.20" x2="1421.28" y2="743.20" stroke="#000" stroke-width="2.4"/>
<line x1="1421.28" y1="955.90" x2="1421.28" y2="943.90" stroke="#000" stroke-width="2.4"/>
<text x="1421.3" y="986.5" font-family="'Liberation Sans', Arial, Helvetica, sans-serif" font-size="24.5" text-anchor="middle" font-weight="normal" font-style="normal" fill="#000" >1000</text>
<line x1="1559.66" y1="731.20" x2="1559.66" y2="743.20" stroke="#000" stroke-width="2.4"/>
<line x1="1559.66" y1="955.90" x2="1559.66" y2="943.90" stroke="#000" stroke-width="2.4"/>
<text x="1559.7" y="986.5" font-family="'Liberation Sans', Arial, Helvetica, sans-serif" font-size="24.5" text-anchor="middle" font-weight="normal" font-style="normal" fill="#000" >2000</text>
<line x1="1698.04" y1="731.20" x2="1698.04" y2="743.20" stroke="#000" stroke-width="2.4"/>
<line x1="1698.04" y1="955.90" x2="1698.04" y2="943.90" stroke="#000" stroke-width="2.4"/>
<text x="1698.0" y="986.5" font-family="'Liberation Sans', Arial, Helvetica, sans-serif" font-size="24.5" text-anchor="middle" font-weight="normal" font-style="normal" fill="#000" >3000</text>
<line x1="1262.10" y1="924.00" x2="1274.10" y2="924.00" stroke="#000" stroke-width="2.4"/>
<line x1="1719.00" y1="924.00" x2="1707.00" y2="924.00" stroke="#000" stroke-width="2.4"/>
<text x="1251.1" y="933.4" font-family="'Liberation Sans', Arial, Helvetica, sans-serif" font-size="24.5" text-anchor="end" font-weight="normal" font-style="normal" fill="#000" >0.5</text>
<line x1="1262.10" y1="851.30" x2="1274.10" y2="851.30" stroke="#000" stroke-width="2.4"/>
<line x1="1719.00" y1="851.30" x2="1707.00" y2="851.30" stroke="#000" stroke-width="2.4"/>
<text x="1251.1" y="860.7" font-family="'Liberation Sans', Arial, Helvetica, sans-serif" font-size="24.5" text-anchor="end" font-weight="normal" font-style="normal" fill="#000" >1.0</text>
<line x1="1262.10" y1="778.60" x2="1274.10" y2="778.60" stroke="#000" stroke-width="2.4"/>
<line x1="1719.00" y1="778.60" x2="1707.00" y2="778.60" stroke="#000" stroke-width="2.4"/>
<text x="1251.1" y="788.0" font-family="'Liberation Sans', Arial, Helvetica, sans-serif" font-size="24.5" text-anchor="end" font-weight="normal" font-style="normal" fill="#000" >1.5</text>
<line x1="1283.0" y1="741.4" x2="1283.0" y2="760.6" stroke="#1f0c48" stroke-width="3.5"/>
<line x1="1269.0" y1="741.4" x2="1297.0" y2="741.4" stroke="#1f0c48" stroke-width="3.5"/>
<line x1="1269.0" y1="760.6" x2="1297.0" y2="760.6" stroke="#1f0c48" stroke-width="3.5"/>
<circle cx="1283.0" cy="751.0" r="12.8" fill="#1f0c48"/>
<line x1="1310.6" y1="875.1" x2="1310.6" y2="881.0" stroke="#1f0c48" stroke-width="3.5"/>
<line x1="1296.6" y1="875.1" x2="1324.6" y2="875.1" stroke="#1f0c48" stroke-width="3.5"/>
<line x1="1296.6" y1="881.0" x2="1324.6" y2="881.0" stroke="#1f0c48" stroke-width="3.5"/>
<circle cx="1310.6" cy="878.1" r="12.8" fill="#1f0c48"/>
<line x1="1421.3" y1="922.8" x2="1421.3" y2="928.7" stroke="#1f0c48" stroke-width="3.5"/>
<line x1="1407.3" y1="922.8" x2="1435.3" y2="922.8" stroke="#1f0c48" stroke-width="3.5"/>
<line x1="1407.3" y1="928.7" x2="1435.3" y2="928.7" stroke="#1f0c48" stroke-width="3.5"/>
<circle cx="1421.3" cy="925.7" r="12.8" fill="#1f0c48"/>
<line x1="1698.0" y1="934.9" x2="1698.0" y2="940.7" stroke="#1f0c48" stroke-width="3.5"/>
<line x1="1684.0" y1="934.9" x2="1712.0" y2="934.9" stroke="#1f0c48" stroke-width="3.5"/>
<line x1="1684.0" y1="940.7" x2="1712.0" y2="940.7" stroke="#1f0c48" stroke-width="3.5"/>
<circle cx="1698.0" cy="937.8" r="12.8" fill="#1f0c48"/>
<text x="1490.5" y="1023.5" font-family="'Liberation Sans', Arial, Helvetica, sans-serif" font-size="24.5" text-anchor="middle" font-weight="normal" font-style="normal" fill="#000" >Power (nW)</text>
<text transform="translate(1197,843.5) rotate(-90)" font-family="'Liberation Sans', Arial, Helvetica, sans-serif" font-size="24.5" text-anchor="middle">Time (ns)</text>
<rect x="1568" y="743.5" width="140" height="45.5" rx="5" fill="#fff" stroke="#d4d4d4" stroke-width="3"/>
<line x1="1603" y1="750.5" x2="1603" y2="775" stroke="#1f0c48" stroke-width="3.5"/>
<line x1="1589" y1="750.5" x2="1617" y2="750.5" stroke="#1f0c48" stroke-width="3.5"/>
<line x1="1589" y1="775" x2="1617" y2="775" stroke="#1f0c48" stroke-width="3.5"/>
<circle cx="1603" cy="762.4" r="12.8" fill="#1f0c48"/>
<text x="1647.5" y="771.7" font-family="'DejaVu Sans', sans-serif" font-size="25" text-anchor="start" font-weight="normal" font-style="italic" fill="#000" >&#964;<tspan font-size="17.5" dy="2.8">rise</tspan></text>
</svg></body></html>
